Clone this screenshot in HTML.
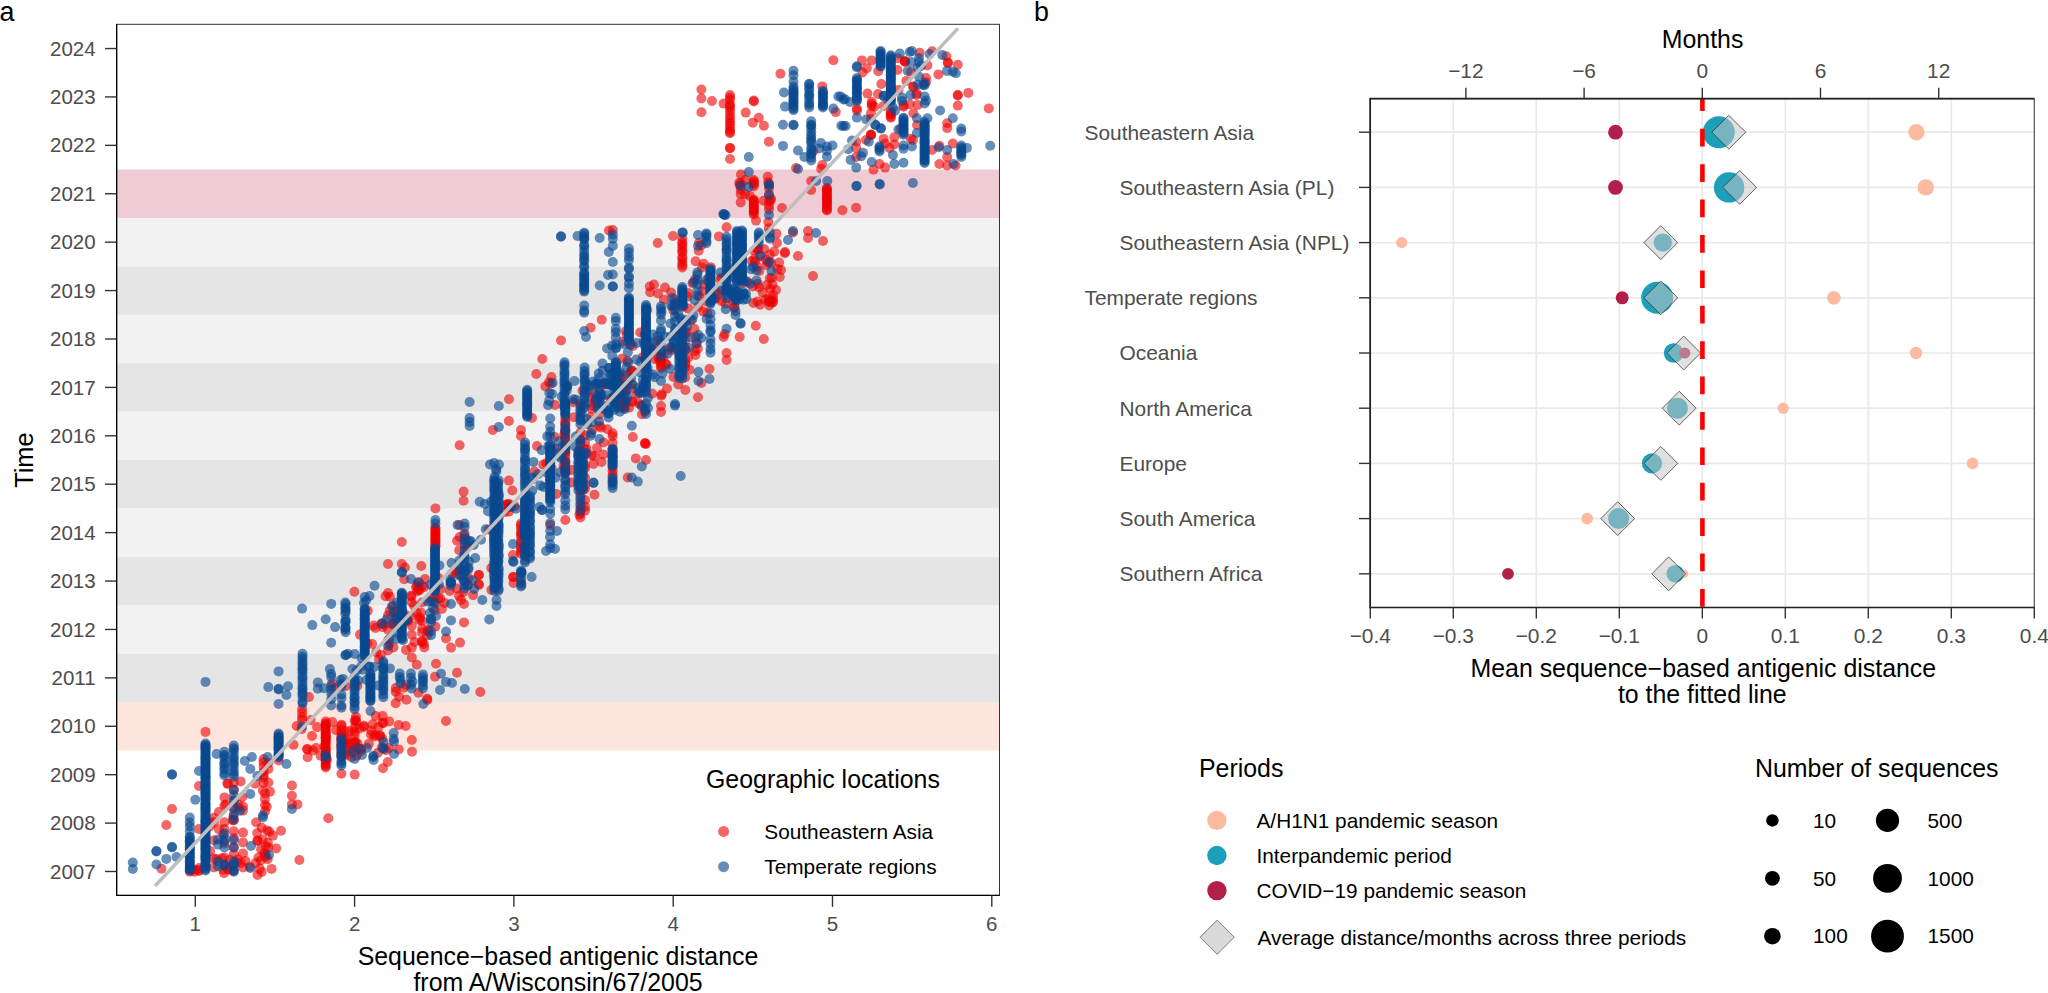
<!DOCTYPE html>
<html lang="en"><head><meta charset="utf-8"><title>Figure</title>
<style>html,body{margin:0;padding:0;background:#fff}body{width:2048px;height:993px;overflow:hidden}svg{display:block}text{font-family:"Liberation Sans", Arial, Helvetica, sans-serif}.t{font-size:20.5px;fill:#4d4d4d}.u{font-size:20.9px;fill:#4d4d4d}.T{font-size:24.9px;fill:#000}.l{font-size:20.8px;fill:#000}.k{stroke:#333;stroke-width:1.4}.g{stroke:#e9e9e9;stroke-width:1.7}</style></head><body>
<svg width="2048" height="993" viewBox="0 0 2048 993">
<rect width="2048" height="993" fill="#fff"/>
<g id="panel-a">
<rect x="116.5" y="702.07" width="883.0" height="48.41" fill="#fee5dd"/>
<rect x="116.5" y="653.65" width="883.0" height="48.41" fill="#e5e5e5"/>
<rect x="116.5" y="605.25" width="883.0" height="48.41" fill="#f2f2f2"/>
<rect x="116.5" y="556.84" width="883.0" height="48.41" fill="#e5e5e5"/>
<rect x="116.5" y="508.43" width="883.0" height="48.41" fill="#f2f2f2"/>
<rect x="116.5" y="460.02" width="883.0" height="48.41" fill="#e5e5e5"/>
<rect x="116.5" y="411.61" width="883.0" height="48.41" fill="#f2f2f2"/>
<rect x="116.5" y="363.20" width="883.0" height="48.41" fill="#e5e5e5"/>
<rect x="116.5" y="314.79" width="883.0" height="48.41" fill="#f2f2f2"/>
<rect x="116.5" y="266.38" width="883.0" height="48.41" fill="#e5e5e5"/>
<rect x="116.5" y="217.97" width="883.0" height="48.41" fill="#f2f2f2"/>
<rect x="116.5" y="169.56" width="883.0" height="48.41" fill="#efccd3"/>
<g fill="#ee0000" fill-opacity=".6">
<circle r="5" cx="325.7" cy="721.5"/><circle r="5" cx="325.7" cy="723.6"/><circle r="5" cx="325.7" cy="724.4"/><circle r="5" cx="325.7" cy="726.0"/><circle r="5" cx="325.7" cy="727.4"/><circle r="5" cx="325.7" cy="729.1"/><circle r="5" cx="325.7" cy="731.6"/><circle r="5" cx="325.7" cy="732.3"/><circle r="5" cx="325.7" cy="733.9"/><circle r="5" cx="325.7" cy="735.1"/><circle r="5" cx="325.7" cy="737.3"/><circle r="5" cx="325.7" cy="738.6"/><circle r="5" cx="325.7" cy="739.9"/><circle r="5" cx="325.7" cy="741.6"/><circle r="5" cx="325.7" cy="743.1"/><circle r="5" cx="325.7" cy="745.0"/><circle r="5" cx="325.7" cy="747.0"/><circle r="5" cx="325.7" cy="748.8"/><circle r="5" cx="325.7" cy="750.3"/><circle r="5" cx="325.7" cy="751.5"/><circle r="5" cx="325.7" cy="753.8"/><circle r="5" cx="325.7" cy="755.1"/><circle r="5" cx="325.7" cy="755.8"/><circle r="5" cx="325.7" cy="758.5"/><circle r="5" cx="325.7" cy="759.9"/><circle r="5" cx="325.7" cy="760.7"/><circle r="5" cx="325.7" cy="762.7"/><circle r="5" cx="325.7" cy="764.7"/><circle r="5" cx="325.7" cy="766.0"/><circle r="5" cx="325.7" cy="767.5"/><circle r="5" cx="278.6" cy="737.5"/><circle r="5" cx="278.6" cy="741.6"/><circle r="5" cx="278.6" cy="747.2"/><circle r="5" cx="278.6" cy="755.0"/><circle r="5" cx="278.6" cy="760.5"/><circle r="5" cx="199.2" cy="868.1"/><circle r="5" cx="199.2" cy="869.9"/><circle r="5" cx="199.2" cy="871.0"/><circle r="5" cx="189.8" cy="870.0"/><circle r="5" cx="189.8" cy="871.8"/><circle r="5" cx="194.5" cy="869.8"/><circle r="5" cx="194.5" cy="871.8"/><circle r="5" cx="263.6" cy="759.0"/><circle r="5" cx="263.6" cy="762.3"/><circle r="5" cx="263.6" cy="766.4"/><circle r="5" cx="263.6" cy="771.5"/><circle r="5" cx="263.6" cy="775.2"/><circle r="5" cx="263.6" cy="777.7"/><circle r="5" cx="263.6" cy="783.0"/><circle r="5" cx="268.4" cy="763.0"/><circle r="5" cx="268.4" cy="769.0"/><circle r="5" cx="268.4" cy="782.5"/><circle r="5" cx="265.0" cy="793.4"/><circle r="5" cx="265.0" cy="798.9"/><circle r="5" cx="265.0" cy="805.0"/><circle r="5" cx="265.0" cy="811.5"/><circle r="5" cx="291.9" cy="785.5"/><circle r="5" cx="291.9" cy="795.8"/><circle r="5" cx="291.9" cy="804.4"/><circle r="5" cx="297.4" cy="804.4"/><circle r="5" cx="172.0" cy="809.0"/><circle r="5" cx="166.3" cy="825.0"/><circle r="5" cx="161.5" cy="868.8"/><circle r="5" cx="328.3" cy="818.2"/><circle r="5" cx="281.0" cy="830.8"/><circle r="5" cx="299.4" cy="860.0"/><circle r="5" cx="276.2" cy="848.4"/><circle r="5" cx="307.6" cy="749.4"/><circle r="5" cx="307.6" cy="757.3"/><circle r="5" cx="293.5" cy="744.7"/><circle r="5" cx="341.4" cy="773.8"/><circle r="5" cx="354.7" cy="774.6"/><circle r="5" cx="383.0" cy="768.3"/><circle r="5" cx="387.7" cy="762.0"/><circle r="5" cx="398.7" cy="749.4"/><circle r="5" cx="412.0" cy="751.8"/><circle r="5" cx="351.6" cy="748.0"/><circle r="5" cx="356.0" cy="750.0"/><circle r="5" cx="361.0" cy="749.0"/><circle r="5" cx="361.0" cy="751.0"/><circle r="5" cx="316.0" cy="748.0"/><circle r="5" cx="199.0" cy="786.0"/><circle r="5" cx="199.0" cy="829.0"/><circle r="5" cx="271.6" cy="868.9"/><circle r="5" cx="211.1" cy="823.1"/><circle r="5" cx="261.7" cy="871.9"/><circle r="5" cx="238.3" cy="804.8"/><circle r="5" cx="223.2" cy="869.8"/><circle r="5" cx="223.3" cy="834.8"/><circle r="5" cx="218.9" cy="829.3"/><circle r="5" cx="270.0" cy="791.7"/><circle r="5" cx="261.7" cy="827.8"/><circle r="5" cx="265.9" cy="846.5"/><circle r="5" cx="224.6" cy="865.2"/><circle r="5" cx="240.6" cy="781.4"/><circle r="5" cx="210.2" cy="826.2"/><circle r="5" cx="238.4" cy="808.0"/><circle r="5" cx="218.9" cy="812.0"/><circle r="5" cx="229.9" cy="859.7"/><circle r="5" cx="210.1" cy="851.1"/><circle r="5" cx="262.9" cy="790.5"/><circle r="5" cx="268.4" cy="847.5"/><circle r="5" cx="266.8" cy="806.8"/><circle r="5" cx="233.4" cy="816.7"/><circle r="5" cx="272.9" cy="835.6"/><circle r="5" cx="232.7" cy="820.1"/><circle r="5" cx="227.3" cy="783.6"/><circle r="5" cx="216.4" cy="859.1"/><circle r="5" cx="228.0" cy="868.8"/><circle r="5" cx="225.7" cy="804.5"/><circle r="5" cx="242.2" cy="797.2"/><circle r="5" cx="233.5" cy="870.8"/><circle r="5" cx="265.7" cy="856.9"/><circle r="5" cx="249.7" cy="866.7"/><circle r="5" cx="269.3" cy="831.7"/><circle r="5" cx="255.3" cy="783.7"/><circle r="5" cx="256.1" cy="822.3"/><circle r="5" cx="257.4" cy="840.9"/><circle r="5" cx="228.0" cy="783.7"/><circle r="5" cx="258.5" cy="857.5"/><circle r="5" cx="236.7" cy="861.9"/><circle r="5" cx="228.3" cy="869.8"/><circle r="5" cx="260.9" cy="860.2"/><circle r="5" cx="245.5" cy="861.0"/><circle r="5" cx="240.8" cy="862.9"/><circle r="5" cx="222.0" cy="858.2"/><circle r="5" cx="224.0" cy="873.1"/><circle r="5" cx="237.9" cy="859.4"/><circle r="5" cx="257.5" cy="874.9"/><circle r="5" cx="233.8" cy="782.5"/><circle r="5" cx="233.8" cy="789.6"/><circle r="5" cx="233.8" cy="800.1"/><circle r="5" cx="233.8" cy="808.7"/><circle r="5" cx="233.8" cy="820.5"/><circle r="5" cx="233.8" cy="831.2"/><circle r="5" cx="233.8" cy="838.1"/><circle r="5" cx="233.8" cy="847.2"/><circle r="5" cx="233.8" cy="854.2"/><circle r="5" cx="224.4" cy="797.4"/><circle r="5" cx="224.4" cy="805.5"/><circle r="5" cx="224.4" cy="822.3"/><circle r="5" cx="224.4" cy="829.1"/><circle r="5" cx="224.4" cy="843.5"/><circle r="5" cx="224.4" cy="857.5"/><circle r="5" cx="243.0" cy="806.4"/><circle r="5" cx="243.0" cy="810.6"/><circle r="5" cx="243.0" cy="832.6"/><circle r="5" cx="243.0" cy="842.4"/><circle r="5" cx="243.0" cy="853.4"/><circle r="5" cx="243.0" cy="867.5"/><circle r="5" cx="214.0" cy="817.7"/><circle r="5" cx="214.0" cy="821.9"/><circle r="5" cx="214.0" cy="840.2"/><circle r="5" cx="214.0" cy="858.6"/><circle r="5" cx="214.0" cy="867.5"/><circle r="5" cx="264.1" cy="853.2"/><circle r="5" cx="255.8" cy="862.9"/><circle r="5" cx="259.7" cy="868.6"/><circle r="5" cx="267.9" cy="842.8"/><circle r="5" cx="257.6" cy="840.6"/><circle r="5" cx="267.7" cy="859.3"/><circle r="5" cx="257.2" cy="833.0"/><circle r="5" cx="265.5" cy="854.5"/><circle r="5" cx="262.8" cy="839.4"/><circle r="5" cx="267.0" cy="830.4"/><circle r="5" cx="261.0" cy="849.3"/><circle r="5" cx="205.5" cy="731.9"/><circle r="5" cx="302.1" cy="709.0"/><circle r="5" cx="302.1" cy="713.0"/><circle r="5" cx="302.1" cy="717.0"/><circle r="5" cx="302.1" cy="720.0"/><circle r="5" cx="309.0" cy="697.0"/><circle r="5" cx="341.4" cy="724.7"/><circle r="5" cx="341.4" cy="725.9"/><circle r="5" cx="341.4" cy="730.2"/><circle r="5" cx="341.4" cy="733.3"/><circle r="5" cx="341.4" cy="735.9"/><circle r="5" cx="341.4" cy="738.0"/><circle r="5" cx="341.4" cy="740.2"/><circle r="5" cx="341.4" cy="743.6"/><circle r="5" cx="341.4" cy="745.3"/><circle r="5" cx="341.4" cy="748.4"/><circle r="5" cx="341.4" cy="752.3"/><circle r="5" cx="341.4" cy="754.0"/><circle r="5" cx="341.4" cy="756.6"/><circle r="5" cx="354.7" cy="721.1"/><circle r="5" cx="354.7" cy="727.5"/><circle r="5" cx="354.7" cy="731.6"/><circle r="5" cx="354.7" cy="735.0"/><circle r="5" cx="354.7" cy="742.7"/><circle r="5" cx="354.7" cy="747.5"/><circle r="5" cx="344.5" cy="743.1"/><circle r="5" cx="313.0" cy="750.6"/><circle r="5" cx="317.1" cy="727.1"/><circle r="5" cx="332.2" cy="721.9"/><circle r="5" cx="336.0" cy="730.1"/><circle r="5" cx="327.0" cy="759.4"/><circle r="5" cx="324.3" cy="746.5"/><circle r="5" cx="310.6" cy="720.1"/><circle r="5" cx="296.7" cy="726.0"/><circle r="5" cx="325.8" cy="737.3"/><circle r="5" cx="320.6" cy="755.8"/><circle r="5" cx="301.6" cy="729.1"/><circle r="5" cx="375.7" cy="716.0"/><circle r="5" cx="345.1" cy="731.0"/><circle r="5" cx="350.0" cy="731.1"/><circle r="5" cx="355.5" cy="741.3"/><circle r="5" cx="372.7" cy="724.2"/><circle r="5" cx="374.3" cy="736.4"/><circle r="5" cx="351.3" cy="757.1"/><circle r="5" cx="356.4" cy="721.7"/><circle r="5" cx="349.5" cy="743.7"/><circle r="5" cx="386.0" cy="750.2"/><circle r="5" cx="363.9" cy="726.9"/><circle r="5" cx="345.5" cy="744.0"/><circle r="5" cx="371.4" cy="730.8"/><circle r="5" cx="375.3" cy="735.0"/><circle r="5" cx="389.0" cy="748.0"/><circle r="5" cx="356.7" cy="755.7"/><circle r="5" cx="347.1" cy="738.9"/><circle r="5" cx="364.1" cy="725.7"/><circle r="5" cx="347.7" cy="750.0"/><circle r="5" cx="345.6" cy="739.8"/><circle r="5" cx="389.2" cy="721.4"/><circle r="5" cx="354.4" cy="742.4"/><circle r="5" cx="368.8" cy="743.9"/><circle r="5" cx="383.2" cy="722.9"/><circle r="5" cx="359.5" cy="728.5"/><circle r="5" cx="347.3" cy="755.0"/><circle r="5" cx="381.8" cy="747.2"/><circle r="5" cx="345.3" cy="753.0"/><circle r="5" cx="380.0" cy="735.9"/><circle r="5" cx="379.9" cy="735.4"/><circle r="5" cx="355.6" cy="719.7"/><circle r="5" cx="355.9" cy="716.7"/><circle r="5" cx="360.8" cy="748.7"/><circle r="5" cx="377.7" cy="753.0"/><circle r="5" cx="378.4" cy="727.0"/><circle r="5" cx="371.0" cy="734.6"/><circle r="5" cx="382.1" cy="738.5"/><circle r="5" cx="357.5" cy="743.9"/><circle r="5" cx="446.0" cy="721.0"/><circle r="5" cx="398.7" cy="725.0"/><circle r="5" cx="405.7" cy="726.0"/><circle r="5" cx="411.8" cy="740.0"/><circle r="5" cx="382.6" cy="716.0"/><circle r="5" cx="382.6" cy="723.0"/><circle r="5" cx="312.0" cy="736.0"/><circle r="5" cx="307.0" cy="749.0"/><circle r="5" cx="354.4" cy="591.8"/><circle r="5" cx="464.0" cy="622.4"/><circle r="5" cx="460.0" cy="642.6"/><circle r="5" cx="451.0" cy="647.6"/><circle r="5" cx="446.0" cy="638.5"/><circle r="5" cx="436.0" cy="663.7"/><circle r="5" cx="416.8" cy="664.7"/><circle r="5" cx="457.0" cy="672.8"/><circle r="5" cx="480.3" cy="692.0"/><circle r="5" cx="435.0" cy="676.8"/><circle r="5" cx="479.0" cy="575.0"/><circle r="5" cx="479.0" cy="585.0"/><circle r="5" cx="491.3" cy="568.0"/><circle r="5" cx="491.3" cy="590.0"/><circle r="5" cx="513.5" cy="577.0"/><circle r="5" cx="513.5" cy="583.0"/><circle r="5" cx="459.0" cy="596.0"/><circle r="5" cx="464.0" cy="604.0"/><circle r="5" cx="461.0" cy="600.0"/><circle r="5" cx="419.9" cy="589.6"/><circle r="5" cx="416.8" cy="585.9"/><circle r="5" cx="418.5" cy="590.0"/><circle r="5" cx="417.6" cy="591.3"/><circle r="5" cx="417.8" cy="582.6"/><circle r="5" cx="422.0" cy="586.0"/><circle r="5" cx="416.1" cy="587.6"/><circle r="5" cx="389.2" cy="644.1"/><circle r="5" cx="423.9" cy="644.0"/><circle r="5" cx="420.0" cy="617.7"/><circle r="5" cx="407.2" cy="620.1"/><circle r="5" cx="434.8" cy="601.3"/><circle r="5" cx="434.7" cy="597.5"/><circle r="5" cx="396.2" cy="612.1"/><circle r="5" cx="435.4" cy="626.6"/><circle r="5" cx="406.0" cy="649.9"/><circle r="5" cx="397.8" cy="624.1"/><circle r="5" cx="414.6" cy="642.0"/><circle r="5" cx="427.1" cy="635.4"/><circle r="5" cx="404.3" cy="615.9"/><circle r="5" cx="393.4" cy="647.4"/><circle r="5" cx="421.9" cy="641.3"/><circle r="5" cx="394.2" cy="622.8"/><circle r="5" cx="428.2" cy="631.3"/><circle r="5" cx="391.7" cy="624.2"/><circle r="5" cx="434.5" cy="610.5"/><circle r="5" cx="395.4" cy="614.4"/><circle r="5" cx="424.3" cy="647.5"/><circle r="5" cx="393.3" cy="605.5"/><circle r="5" cx="398.6" cy="615.9"/><circle r="5" cx="414.1" cy="605.8"/><circle r="5" cx="403.8" cy="687.8"/><circle r="5" cx="427.1" cy="698.6"/><circle r="5" cx="395.7" cy="703.2"/><circle r="5" cx="395.7" cy="691.7"/><circle r="5" cx="427.4" cy="699.9"/><circle r="5" cx="418.4" cy="692.7"/><circle r="5" cx="399.1" cy="696.8"/><circle r="5" cx="395.8" cy="688.1"/><circle r="5" cx="406.0" cy="684.7"/><circle r="5" cx="406.4" cy="699.8"/><circle r="5" cx="375.4" cy="628.0"/><circle r="5" cx="373.7" cy="625.6"/><circle r="5" cx="360.0" cy="634.6"/><circle r="5" cx="367.3" cy="643.4"/><circle r="5" cx="381.4" cy="623.5"/><circle r="5" cx="372.1" cy="643.9"/><circle r="5" cx="367.8" cy="610.6"/><circle r="5" cx="376.2" cy="652.3"/><circle r="5" cx="388.0" cy="615.4"/><circle r="5" cx="388.0" cy="629.6"/><circle r="5" cx="388.0" cy="640.7"/><circle r="5" cx="388.0" cy="650.5"/><circle r="5" cx="411.8" cy="602.5"/><circle r="5" cx="411.8" cy="616.0"/><circle r="5" cx="411.8" cy="625.6"/><circle r="5" cx="411.8" cy="634.8"/><circle r="5" cx="411.8" cy="647.6"/><circle r="5" cx="411.8" cy="657.5"/><circle r="5" cx="422.0" cy="602.5"/><circle r="5" cx="422.0" cy="620.8"/><circle r="5" cx="422.0" cy="632.4"/><circle r="5" cx="422.0" cy="642.0"/><circle r="5" cx="435.4" cy="527.5"/><circle r="5" cx="435.4" cy="528.8"/><circle r="5" cx="435.4" cy="530.6"/><circle r="5" cx="435.4" cy="532.3"/><circle r="5" cx="435.4" cy="533.6"/><circle r="5" cx="435.4" cy="535.1"/><circle r="5" cx="435.4" cy="536.6"/><circle r="5" cx="435.4" cy="538.2"/><circle r="5" cx="435.4" cy="539.6"/><circle r="5" cx="435.4" cy="541.0"/><circle r="5" cx="435.4" cy="542.1"/><circle r="5" cx="435.4" cy="543.7"/><circle r="5" cx="435.4" cy="545.4"/><circle r="5" cx="435.4" cy="546.5"/><circle r="5" cx="565.3" cy="418.5"/><circle r="5" cx="565.3" cy="421.8"/><circle r="5" cx="565.3" cy="423.8"/><circle r="5" cx="565.3" cy="426.6"/><circle r="5" cx="565.3" cy="430.2"/><circle r="5" cx="565.3" cy="432.4"/><circle r="5" cx="565.3" cy="434.4"/><circle r="5" cx="565.3" cy="437.1"/><circle r="5" cx="565.3" cy="440.9"/><circle r="5" cx="565.3" cy="444.4"/><circle r="5" cx="565.3" cy="447.0"/><circle r="5" cx="565.3" cy="450.0"/><circle r="5" cx="565.3" cy="451.6"/><circle r="5" cx="565.3" cy="453.5"/><circle r="5" cx="565.3" cy="457.5"/><circle r="5" cx="565.3" cy="461.1"/><circle r="5" cx="565.3" cy="463.0"/><circle r="5" cx="565.3" cy="465.7"/><circle r="5" cx="565.3" cy="468.9"/><circle r="5" cx="565.3" cy="470.9"/><circle r="5" cx="565.3" cy="473.7"/><circle r="5" cx="612.6" cy="433.3"/><circle r="5" cx="612.6" cy="436.2"/><circle r="5" cx="612.6" cy="443.1"/><circle r="5" cx="612.6" cy="449.4"/><circle r="5" cx="612.6" cy="456.6"/><circle r="5" cx="612.6" cy="459.8"/><circle r="5" cx="612.6" cy="467.8"/><circle r="5" cx="612.6" cy="471.2"/><circle r="5" cx="612.6" cy="475.1"/><circle r="5" cx="612.6" cy="482.1"/><circle r="5" cx="580.4" cy="432.6"/><circle r="5" cx="580.4" cy="439.6"/><circle r="5" cx="580.4" cy="444.6"/><circle r="5" cx="580.4" cy="450.3"/><circle r="5" cx="580.4" cy="452.5"/><circle r="5" cx="580.4" cy="459.4"/><circle r="5" cx="580.4" cy="463.4"/><circle r="5" cx="580.4" cy="470.7"/><circle r="5" cx="580.4" cy="474.9"/><circle r="5" cx="580.4" cy="481.5"/><circle r="5" cx="580.4" cy="485.9"/><circle r="5" cx="580.4" cy="490.8"/><circle r="5" cx="580.4" cy="494.9"/><circle r="5" cx="580.4" cy="503.8"/><circle r="5" cx="580.4" cy="508.5"/><circle r="5" cx="580.4" cy="513.1"/><circle r="5" cx="580.4" cy="517.5"/><circle r="5" cx="585.0" cy="442.7"/><circle r="5" cx="585.0" cy="449.9"/><circle r="5" cx="585.0" cy="454.4"/><circle r="5" cx="585.0" cy="465.0"/><circle r="5" cx="585.0" cy="468.3"/><circle r="5" cx="585.0" cy="477.6"/><circle r="5" cx="585.0" cy="485.1"/><circle r="5" cx="585.0" cy="489.0"/><circle r="5" cx="585.0" cy="500.0"/><circle r="5" cx="585.0" cy="506.7"/><circle r="5" cx="585.0" cy="510.6"/><circle r="5" cx="459.6" cy="445.3"/><circle r="5" cx="508.9" cy="421.0"/><circle r="5" cx="492.8" cy="430.0"/><circle r="5" cx="521.0" cy="430.0"/><circle r="5" cx="521.0" cy="436.0"/><circle r="5" cx="532.0" cy="418.0"/><circle r="5" cx="537.0" cy="446.0"/><circle r="5" cx="508.9" cy="480.6"/><circle r="5" cx="463.6" cy="491.6"/><circle r="5" cx="463.6" cy="500.7"/><circle r="5" cx="435.4" cy="508.4"/><circle r="5" cx="401.8" cy="542.0"/><circle r="5" cx="388.0" cy="564.0"/><circle r="5" cx="401.8" cy="564.0"/><circle r="5" cx="421.3" cy="566.0"/><circle r="5" cx="388.0" cy="593.0"/><circle r="5" cx="594.5" cy="456.0"/><circle r="5" cx="594.5" cy="494.7"/><circle r="5" cx="601.5" cy="462.0"/><circle r="5" cx="632.8" cy="437.0"/><circle r="5" cx="645.0" cy="443.0"/><circle r="5" cx="645.0" cy="443.6"/><circle r="5" cx="646.0" cy="444.0"/><circle r="5" cx="635.8" cy="458.4"/><circle r="5" cx="646.0" cy="460.0"/><circle r="5" cx="627.7" cy="477.5"/><circle r="5" cx="661.0" cy="406.0"/><circle r="5" cx="661.0" cy="412.0"/><circle r="5" cx="599.5" cy="426.0"/><circle r="5" cx="565.3" cy="520.0"/><circle r="5" cx="579.4" cy="514.8"/><circle r="5" cx="550.2" cy="525.0"/><circle r="5" cx="513.0" cy="555.0"/><circle r="5" cx="513.0" cy="577.0"/><circle r="5" cx="521.0" cy="583.0"/><circle r="5" cx="478.7" cy="575.0"/><circle r="5" cx="478.7" cy="584.0"/><circle r="5" cx="389.9" cy="596.7"/><circle r="5" cx="438.2" cy="577.9"/><circle r="5" cx="425.0" cy="579.1"/><circle r="5" cx="385.5" cy="596.3"/><circle r="5" cx="438.3" cy="598.6"/><circle r="5" cx="424.0" cy="587.1"/><circle r="5" cx="404.9" cy="567.5"/><circle r="5" cx="473.1" cy="595.1"/><circle r="5" cx="411.5" cy="596.6"/><circle r="5" cx="461.6" cy="576.3"/><circle r="5" cx="440.3" cy="598.6"/><circle r="5" cx="429.6" cy="598.3"/><circle r="5" cx="404.3" cy="579.3"/><circle r="5" cx="451.8" cy="573.5"/><circle r="5" cx="410.9" cy="595.8"/><circle r="5" cx="508.8" cy="511.7"/><circle r="5" cx="505.9" cy="504.9"/><circle r="5" cx="507.3" cy="505.1"/><circle r="5" cx="514.7" cy="506.2"/><circle r="5" cx="509.7" cy="504.3"/><circle r="5" cx="509.4" cy="507.2"/><circle r="5" cx="507.8" cy="503.7"/><circle r="5" cx="504.5" cy="512.1"/><circle r="5" cx="521.0" cy="523.5"/><circle r="5" cx="521.0" cy="525.6"/><circle r="5" cx="521.0" cy="528.5"/><circle r="5" cx="521.0" cy="532.3"/><circle r="5" cx="521.0" cy="534.0"/><circle r="5" cx="521.0" cy="536.7"/><circle r="5" cx="521.0" cy="541.2"/><circle r="5" cx="521.0" cy="543.1"/><circle r="5" cx="521.0" cy="546.7"/><circle r="5" cx="521.0" cy="548.5"/><circle r="5" cx="521.0" cy="551.4"/><circle r="5" cx="521.0" cy="553.8"/><circle r="5" cx="495.8" cy="482.5"/><circle r="5" cx="495.8" cy="489.2"/><circle r="5" cx="495.8" cy="497.7"/><circle r="5" cx="495.8" cy="505.7"/><circle r="5" cx="495.8" cy="509.8"/><circle r="5" cx="495.8" cy="518.1"/><circle r="5" cx="495.8" cy="526.6"/><circle r="5" cx="495.8" cy="531.6"/><circle r="5" cx="495.8" cy="537.2"/><circle r="5" cx="495.8" cy="544.9"/><circle r="5" cx="495.8" cy="552.9"/><circle r="5" cx="495.8" cy="558.9"/><circle r="5" cx="495.8" cy="564.7"/><circle r="5" cx="495.8" cy="572.5"/><circle r="5" cx="495.8" cy="578.3"/><circle r="5" cx="495.8" cy="586.7"/><circle r="5" cx="459.5" cy="524.9"/><circle r="5" cx="459.7" cy="537.0"/><circle r="5" cx="456.9" cy="573.8"/><circle r="5" cx="459.2" cy="550.3"/><circle r="5" cx="468.6" cy="578.1"/><circle r="5" cx="468.2" cy="584.6"/><circle r="5" cx="457.0" cy="540.7"/><circle r="5" cx="455.4" cy="571.0"/><circle r="5" cx="465.0" cy="546.4"/><circle r="5" cx="461.2" cy="569.4"/><circle r="5" cx="465.5" cy="538.6"/><circle r="5" cx="467.7" cy="546.4"/><circle r="5" cx="464.4" cy="533.6"/><circle r="5" cx="456.7" cy="588.5"/><circle r="5" cx="642.0" cy="414.3"/><circle r="5" cx="621.2" cy="400.8"/><circle r="5" cx="624.9" cy="404.0"/><circle r="5" cx="629.1" cy="407.6"/><circle r="5" cx="621.2" cy="406.2"/><circle r="5" cx="639.1" cy="403.6"/><circle r="5" cx="645.2" cy="411.4"/><circle r="5" cx="641.5" cy="405.1"/><circle r="5" cx="597.0" cy="447.9"/><circle r="5" cx="595.6" cy="400.1"/><circle r="5" cx="603.3" cy="454.4"/><circle r="5" cx="594.6" cy="403.0"/><circle r="5" cx="603.7" cy="442.5"/><circle r="5" cx="590.8" cy="417.1"/><circle r="5" cx="591.8" cy="455.4"/><circle r="5" cx="593.4" cy="464.0"/><circle r="5" cx="602.0" cy="406.0"/><circle r="5" cx="601.1" cy="427.6"/><circle r="5" cx="682.3" cy="238.5"/><circle r="5" cx="682.3" cy="242.3"/><circle r="5" cx="682.3" cy="244.5"/><circle r="5" cx="682.3" cy="247.4"/><circle r="5" cx="682.3" cy="250.6"/><circle r="5" cx="682.3" cy="252.4"/><circle r="5" cx="682.3" cy="257.0"/><circle r="5" cx="682.3" cy="259.1"/><circle r="5" cx="682.3" cy="262.4"/><circle r="5" cx="682.3" cy="265.3"/><circle r="5" cx="682.3" cy="267.5"/><circle r="5" cx="612.8" cy="230.0"/><circle r="5" cx="609.0" cy="230.5"/><circle r="5" cx="657.7" cy="243.0"/><circle r="5" cx="673.0" cy="236.0"/><circle r="5" cx="654.0" cy="284.5"/><circle r="5" cx="665.0" cy="287.5"/><circle r="5" cx="671.0" cy="292.6"/><circle r="5" cx="808.0" cy="231.0"/><circle r="5" cx="808.0" cy="238.0"/><circle r="5" cx="823.0" cy="241.0"/><circle r="5" cx="798.0" cy="256.0"/><circle r="5" cx="813.0" cy="276.0"/><circle r="5" cx="785.0" cy="252.0"/><circle r="5" cx="755.8" cy="325.8"/><circle r="5" cx="763.8" cy="339.0"/><circle r="5" cx="739.7" cy="337.0"/><circle r="5" cx="723.6" cy="337.0"/><circle r="5" cx="726.6" cy="353.0"/><circle r="5" cx="726.6" cy="360.0"/><circle r="5" cx="695.4" cy="337.0"/><circle r="5" cx="695.0" cy="351.0"/><circle r="5" cx="695.5" cy="355.0"/><circle r="5" cx="601.7" cy="319.8"/><circle r="5" cx="590.6" cy="327.8"/><circle r="5" cx="561.0" cy="340.5"/><circle r="5" cx="542.3" cy="359.0"/><circle r="5" cx="509.0" cy="399.3"/><circle r="5" cx="536.3" cy="374.0"/><circle r="5" cx="551.4" cy="377.0"/><circle r="5" cx="685.3" cy="390.0"/><circle r="5" cx="701.4" cy="383.0"/><circle r="5" cx="709.5" cy="369.0"/><circle r="5" cx="769.7" cy="254.7"/><circle r="5" cx="758.5" cy="247.8"/><circle r="5" cx="755.1" cy="261.4"/><circle r="5" cx="764.3" cy="249.2"/><circle r="5" cx="757.2" cy="248.9"/><circle r="5" cx="754.2" cy="250.6"/><circle r="5" cx="757.0" cy="266.5"/><circle r="5" cx="770.9" cy="262.6"/><circle r="5" cx="760.1" cy="256.4"/><circle r="5" cx="766.4" cy="265.1"/><circle r="5" cx="765.8" cy="259.4"/><circle r="5" cx="754.2" cy="259.1"/><circle r="5" cx="767.8" cy="262.5"/><circle r="5" cx="751.9" cy="261.1"/><circle r="5" cx="757.3" cy="249.4"/><circle r="5" cx="773.1" cy="298.7"/><circle r="5" cx="767.0" cy="284.9"/><circle r="5" cx="769.3" cy="305.4"/><circle r="5" cx="771.4" cy="300.5"/><circle r="5" cx="769.4" cy="302.0"/><circle r="5" cx="762.7" cy="292.6"/><circle r="5" cx="769.2" cy="301.5"/><circle r="5" cx="770.4" cy="289.1"/><circle r="5" cx="772.9" cy="295.1"/><circle r="5" cx="772.5" cy="284.5"/><circle r="5" cx="773.1" cy="301.6"/><circle r="5" cx="753.4" cy="302.9"/><circle r="5" cx="752.9" cy="286.5"/><circle r="5" cx="759.1" cy="287.5"/><circle r="5" cx="760.0" cy="304.7"/><circle r="5" cx="765.3" cy="299.6"/><circle r="5" cx="757.3" cy="301.5"/><circle r="5" cx="768.3" cy="298.9"/><circle r="5" cx="772.4" cy="302.6"/><circle r="5" cx="757.7" cy="283.7"/><circle r="5" cx="726.6" cy="227.2"/><circle r="5" cx="768.7" cy="228.3"/><circle r="5" cx="776.5" cy="233.8"/><circle r="5" cx="784.8" cy="253.2"/><circle r="5" cx="774.2" cy="251.6"/><circle r="5" cx="779.2" cy="262.6"/><circle r="5" cx="779.8" cy="277.0"/><circle r="5" cx="769.8" cy="278.2"/><circle r="5" cx="725.5" cy="303.6"/><circle r="5" cx="720.0" cy="291.5"/><circle r="5" cx="734.3" cy="307.0"/><circle r="5" cx="734.3" cy="307.4"/><circle r="5" cx="702.0" cy="291.5"/><circle r="5" cx="777.0" cy="243.0"/><circle r="5" cx="781.0" cy="270.0"/><circle r="5" cx="776.0" cy="290.0"/><circle r="5" cx="734.8" cy="298.2"/><circle r="5" cx="718.6" cy="293.9"/><circle r="5" cx="716.2" cy="298.8"/><circle r="5" cx="720.5" cy="279.5"/><circle r="5" cx="743.7" cy="282.7"/><circle r="5" cx="721.7" cy="301.1"/><circle r="5" cx="733.3" cy="301.3"/><circle r="5" cx="726.8" cy="287.5"/><circle r="5" cx="632.3" cy="371.0"/><circle r="5" cx="632.8" cy="346.0"/><circle r="5" cx="630.5" cy="343.8"/><circle r="5" cx="625.9" cy="331.0"/><circle r="5" cx="620.6" cy="405.7"/><circle r="5" cx="624.8" cy="394.9"/><circle r="5" cx="621.8" cy="358.8"/><circle r="5" cx="619.5" cy="374.7"/><circle r="5" cx="630.9" cy="371.6"/><circle r="5" cx="623.7" cy="404.4"/><circle r="5" cx="631.4" cy="383.6"/><circle r="5" cx="619.1" cy="380.3"/><circle r="5" cx="624.7" cy="406.7"/><circle r="5" cx="623.4" cy="383.2"/><circle r="5" cx="627.5" cy="360.7"/><circle r="5" cx="625.8" cy="384.4"/><circle r="5" cx="631.6" cy="370.4"/><circle r="5" cx="623.5" cy="408.1"/><circle r="5" cx="618.9" cy="397.0"/><circle r="5" cx="628.3" cy="375.0"/><circle r="5" cx="624.7" cy="390.3"/><circle r="5" cx="631.4" cy="388.6"/><circle r="5" cx="629.2" cy="333.8"/><circle r="5" cx="622.9" cy="341.8"/><circle r="5" cx="632.3" cy="401.4"/><circle r="5" cx="620.2" cy="377.4"/><circle r="5" cx="626.7" cy="334.7"/><circle r="5" cx="623.9" cy="390.0"/><circle r="5" cx="661.0" cy="353.8"/><circle r="5" cx="661.0" cy="357.1"/><circle r="5" cx="661.0" cy="359.6"/><circle r="5" cx="661.0" cy="363.6"/><circle r="5" cx="661.0" cy="366.2"/><circle r="5" cx="661.0" cy="368.2"/><circle r="5" cx="685.0" cy="330.4"/><circle r="5" cx="685.0" cy="334.1"/><circle r="5" cx="685.0" cy="341.0"/><circle r="5" cx="685.0" cy="347.5"/><circle r="5" cx="685.0" cy="350.2"/><circle r="5" cx="685.0" cy="359.0"/><circle r="5" cx="685.0" cy="364.0"/><circle r="5" cx="685.0" cy="367.7"/><circle r="5" cx="657.9" cy="356.8"/><circle r="5" cx="698.0" cy="397.3"/><circle r="5" cx="651.2" cy="351.7"/><circle r="5" cx="696.6" cy="343.8"/><circle r="5" cx="659.3" cy="360.7"/><circle r="5" cx="646.5" cy="348.2"/><circle r="5" cx="663.6" cy="357.0"/><circle r="5" cx="697.8" cy="348.7"/><circle r="5" cx="652.2" cy="393.6"/><circle r="5" cx="667.0" cy="388.6"/><circle r="5" cx="678.2" cy="384.5"/><circle r="5" cx="658.9" cy="340.6"/><circle r="5" cx="685.4" cy="362.9"/><circle r="5" cx="673.5" cy="376.9"/><circle r="5" cx="685.2" cy="349.3"/><circle r="5" cx="661.8" cy="394.2"/><circle r="5" cx="671.8" cy="350.2"/><circle r="5" cx="677.8" cy="348.2"/><circle r="5" cx="686.3" cy="332.9"/><circle r="5" cx="689.6" cy="369.7"/><circle r="5" cx="661.2" cy="395.8"/><circle r="5" cx="655.9" cy="347.0"/><circle r="5" cx="644.2" cy="368.4"/><circle r="5" cx="685.2" cy="377.5"/><circle r="5" cx="573.0" cy="402.3"/><circle r="5" cx="548.9" cy="382.3"/><circle r="5" cx="591.6" cy="408.7"/><circle r="5" cx="590.7" cy="397.7"/><circle r="5" cx="602.0" cy="385.8"/><circle r="5" cx="615.2" cy="399.7"/><circle r="5" cx="567.3" cy="385.7"/><circle r="5" cx="604.5" cy="384.0"/><circle r="5" cx="554.9" cy="404.9"/><circle r="5" cx="582.5" cy="390.8"/><circle r="5" cx="593.6" cy="406.1"/><circle r="5" cx="550.7" cy="383.5"/><circle r="5" cx="545.3" cy="386.5"/><circle r="5" cx="580.2" cy="404.1"/><circle r="5" cx="593.4" cy="393.1"/><circle r="5" cx="730.0" cy="95.0"/><circle r="5" cx="730.0" cy="97.5"/><circle r="5" cx="730.0" cy="99.7"/><circle r="5" cx="730.0" cy="104.5"/><circle r="5" cx="730.0" cy="105.7"/><circle r="5" cx="730.0" cy="108.3"/><circle r="5" cx="730.0" cy="111.4"/><circle r="5" cx="730.0" cy="115.1"/><circle r="5" cx="730.0" cy="118.0"/><circle r="5" cx="730.0" cy="121.2"/><circle r="5" cx="730.0" cy="123.8"/><circle r="5" cx="730.0" cy="126.6"/><circle r="5" cx="730.0" cy="129.5"/><circle r="5" cx="730.0" cy="131.9"/><circle r="5" cx="730.0" cy="133.2"/><circle r="5" cx="730.0" cy="147.9"/><circle r="5" cx="730.0" cy="148.3"/><circle r="5" cx="730.0" cy="159.0"/><circle r="5" cx="701.4" cy="89.5"/><circle r="5" cx="701.4" cy="98.5"/><circle r="5" cx="701.4" cy="112.2"/><circle r="5" cx="712.0" cy="101.0"/><circle r="5" cx="723.6" cy="103.6"/><circle r="5" cx="753.8" cy="100.5"/><circle r="5" cx="753.8" cy="101.5"/><circle r="5" cx="745.7" cy="112.6"/><circle r="5" cx="758.8" cy="117.7"/><circle r="5" cx="752.8" cy="122.7"/><circle r="5" cx="763.9" cy="125.7"/><circle r="5" cx="768.9" cy="141.8"/><circle r="5" cx="780.4" cy="73.7"/><circle r="5" cx="833.4" cy="60.3"/><circle r="5" cx="822.3" cy="86.4"/><circle r="5" cx="753.8" cy="180.1"/><circle r="5" cx="753.8" cy="181.5"/><circle r="5" cx="753.8" cy="183.2"/><circle r="5" cx="753.8" cy="184.3"/><circle r="5" cx="753.8" cy="186.5"/><circle r="5" cx="753.8" cy="199.7"/><circle r="5" cx="753.8" cy="200.7"/><circle r="5" cx="753.8" cy="201.9"/><circle r="5" cx="753.8" cy="203.6"/><circle r="5" cx="753.8" cy="205.3"/><circle r="5" cx="753.8" cy="206.6"/><circle r="5" cx="753.8" cy="208.2"/><circle r="5" cx="753.8" cy="210.0"/><circle r="5" cx="753.8" cy="211.2"/><circle r="5" cx="753.8" cy="212.7"/><circle r="5" cx="753.8" cy="214.5"/><circle r="5" cx="769.0" cy="183.5"/><circle r="5" cx="769.0" cy="188.4"/><circle r="5" cx="769.0" cy="194.9"/><circle r="5" cx="769.0" cy="201.3"/><circle r="5" cx="769.0" cy="205.8"/><circle r="5" cx="769.0" cy="209.4"/><circle r="5" cx="740.7" cy="183.5"/><circle r="5" cx="740.7" cy="189.6"/><circle r="5" cx="740.7" cy="194.1"/><circle r="5" cx="740.7" cy="202.4"/><circle r="5" cx="745.1" cy="194.3"/><circle r="5" cx="741.0" cy="174.6"/><circle r="5" cx="749.8" cy="195.9"/><circle r="5" cx="770.7" cy="200.4"/><circle r="5" cx="739.3" cy="182.8"/><circle r="5" cx="763.7" cy="200.8"/><circle r="5" cx="768.3" cy="222.0"/><circle r="5" cx="767.8" cy="176.8"/><circle r="5" cx="771.0" cy="198.8"/><circle r="5" cx="745.4" cy="180.0"/><circle r="5" cx="768.1" cy="182.3"/><circle r="5" cx="739.7" cy="185.1"/><circle r="5" cx="782.0" cy="208.0"/><circle r="5" cx="796.0" cy="168.0"/><circle r="5" cx="811.2" cy="181.0"/><circle r="5" cx="811.2" cy="190.0"/><circle r="5" cx="822.3" cy="165.0"/><circle r="5" cx="842.4" cy="210.3"/><circle r="5" cx="856.1" cy="207.7"/><circle r="5" cx="826.9" cy="188.0"/><circle r="5" cx="826.9" cy="189.3"/><circle r="5" cx="826.9" cy="190.5"/><circle r="5" cx="826.9" cy="191.7"/><circle r="5" cx="826.9" cy="193.5"/><circle r="5" cx="826.9" cy="195.8"/><circle r="5" cx="826.9" cy="196.3"/><circle r="5" cx="826.9" cy="198.4"/><circle r="5" cx="826.9" cy="199.2"/><circle r="5" cx="826.9" cy="201.6"/><circle r="5" cx="826.9" cy="202.5"/><circle r="5" cx="826.9" cy="204.5"/><circle r="5" cx="826.9" cy="205.5"/><circle r="5" cx="826.9" cy="208.0"/><circle r="5" cx="826.9" cy="209.4"/><circle r="5" cx="826.9" cy="210.5"/><circle r="5" cx="861.9" cy="60.4"/><circle r="5" cx="871.7" cy="60.4"/><circle r="5" cx="866.8" cy="68.2"/><circle r="5" cx="862.5" cy="72.5"/><circle r="5" cx="867.5" cy="93.6"/><circle r="5" cx="871.7" cy="102.0"/><circle r="5" cx="871.7" cy="104.0"/><circle r="5" cx="871.7" cy="106.0"/><circle r="5" cx="878.0" cy="94.0"/><circle r="5" cx="871.0" cy="113.3"/><circle r="5" cx="871.0" cy="119.0"/><circle r="5" cx="856.9" cy="108.5"/><circle r="5" cx="856.9" cy="110.5"/><circle r="5" cx="890.8" cy="111.7"/><circle r="5" cx="890.8" cy="113.2"/><circle r="5" cx="890.8" cy="114.4"/><circle r="5" cx="890.8" cy="116.4"/><circle r="5" cx="890.8" cy="117.7"/><circle r="5" cx="903.5" cy="105.2"/><circle r="5" cx="903.5" cy="106.8"/><circle r="5" cx="904.9" cy="61.0"/><circle r="5" cx="904.9" cy="61.4"/><circle r="5" cx="904.9" cy="61.8"/><circle r="5" cx="919.7" cy="52.7"/><circle r="5" cx="897.8" cy="58.3"/><circle r="5" cx="927.4" cy="65.4"/><circle r="5" cx="926.0" cy="78.0"/><circle r="5" cx="926.0" cy="82.3"/><circle r="5" cx="913.3" cy="86.5"/><circle r="5" cx="913.3" cy="86.9"/><circle r="5" cx="906.3" cy="80.9"/><circle r="5" cx="916.2" cy="95.0"/><circle r="5" cx="917.6" cy="104.9"/><circle r="5" cx="913.3" cy="113.3"/><circle r="5" cx="897.5" cy="70.0"/><circle r="5" cx="898.5" cy="90.0"/><circle r="5" cx="911.0" cy="72.0"/><circle r="5" cx="947.9" cy="62.6"/><circle r="5" cx="947.9" cy="63.0"/><circle r="5" cx="957.8" cy="64.7"/><circle r="5" cx="957.8" cy="95.0"/><circle r="5" cx="957.8" cy="95.5"/><circle r="5" cx="968.3" cy="92.9"/><circle r="5" cx="957.8" cy="105.6"/><circle r="5" cx="988.8" cy="108.4"/><circle r="5" cx="947.2" cy="123.2"/><circle r="5" cx="947.2" cy="128.1"/><circle r="5" cx="871.0" cy="134.5"/><circle r="5" cx="871.0" cy="134.9"/><circle r="5" cx="871.0" cy="135.3"/><circle r="5" cx="856.2" cy="141.5"/><circle r="5" cx="856.2" cy="147.9"/><circle r="5" cx="856.2" cy="157.0"/><circle r="5" cx="894.3" cy="137.3"/><circle r="5" cx="885.1" cy="143.6"/><circle r="5" cx="889.4" cy="147.9"/><circle r="5" cx="894.3" cy="144.4"/><circle r="5" cx="879.5" cy="164.0"/><circle r="5" cx="885.1" cy="167.6"/><circle r="5" cx="939.4" cy="145.8"/><circle r="5" cx="939.4" cy="164.0"/><circle r="5" cx="947.2" cy="157.0"/><circle r="5" cx="952.8" cy="143.6"/><circle r="5" cx="947.2" cy="165.5"/><circle r="5" cx="955.6" cy="165.5"/><circle r="5" cx="866.0" cy="140.0"/><circle r="5" cx="913.0" cy="140.0"/><circle r="5" cx="932.0" cy="150.0"/><circle r="5" cx="917.0" cy="125.0"/><circle r="5" cx="793.0" cy="232.5"/><circle r="5" cx="756.0" cy="220.6"/><circle r="5" cx="703.7" cy="263.7"/><circle r="5" cx="704.3" cy="284.2"/><circle r="5" cx="695.6" cy="261.2"/><circle r="5" cx="699.4" cy="296.6"/><circle r="5" cx="695.0" cy="279.4"/><circle r="5" cx="702.0" cy="267.4"/><circle r="5" cx="710.2" cy="287.5"/><circle r="5" cx="698.7" cy="250.8"/><circle r="5" cx="698.3" cy="306.9"/><circle r="5" cx="699.0" cy="242.7"/><circle r="5" cx="709.1" cy="277.4"/><circle r="5" cx="718.9" cy="236.4"/><circle r="5" cx="701.3" cy="245.1"/><circle r="5" cx="710.8" cy="267.3"/><circle r="5" cx="706.0" cy="301.3"/><circle r="5" cx="712.9" cy="299.1"/><circle r="5" cx="688.1" cy="293.0"/><circle r="5" cx="687.4" cy="296.6"/><circle r="5" cx="647.3" cy="309.8"/><circle r="5" cx="649.7" cy="286.5"/><circle r="5" cx="658.0" cy="293.5"/><circle r="5" cx="688.5" cy="308.6"/><circle r="5" cx="663.9" cy="299.8"/><circle r="5" cx="683.2" cy="307.0"/><circle r="5" cx="674.4" cy="299.3"/><circle r="5" cx="650.2" cy="292.3"/><circle r="5" cx="357.4" cy="685.7"/><circle r="5" cx="421.0" cy="612.5"/><circle r="5" cx="384.1" cy="624.4"/><circle r="5" cx="389.7" cy="610.8"/><circle r="5" cx="422.2" cy="628.5"/><circle r="5" cx="379.0" cy="659.2"/><circle r="5" cx="334.7" cy="688.2"/><circle r="5" cx="332.1" cy="683.3"/><circle r="5" cx="382.7" cy="627.1"/><circle r="5" cx="463.5" cy="592.0"/><circle r="5" cx="404.6" cy="614.0"/><circle r="5" cx="345.6" cy="686.1"/><circle r="5" cx="416.5" cy="612.9"/><circle r="5" cx="419.5" cy="620.0"/><circle r="5" cx="381.0" cy="654.9"/><circle r="5" cx="428.0" cy="629.9"/><circle r="5" cx="441.8" cy="608.9"/><circle r="5" cx="440.8" cy="589.3"/><circle r="5" cx="449.9" cy="590.9"/><circle r="5" cx="444.7" cy="603.0"/><circle r="5" cx="407.9" cy="621.3"/><circle r="5" cx="395.9" cy="623.0"/><circle r="5" cx="556.3" cy="493.9"/><circle r="5" cx="512.3" cy="490.5"/><circle r="5" cx="563.6" cy="465.9"/><circle r="5" cx="488.5" cy="529.5"/><circle r="5" cx="564.1" cy="435.4"/><circle r="5" cx="554.4" cy="436.9"/><circle r="5" cx="571.3" cy="470.0"/><circle r="5" cx="586.6" cy="448.9"/><circle r="5" cx="573.8" cy="417.2"/><circle r="5" cx="551.8" cy="468.7"/><circle r="5" cx="578.0" cy="455.1"/><circle r="5" cx="543.3" cy="464.7"/><circle r="5" cx="592.2" cy="429.9"/><circle r="5" cx="607.4" cy="429.2"/><circle r="5" cx="546.5" cy="463.1"/><circle r="5" cx="534.4" cy="471.6"/><circle r="5" cx="599.3" cy="414.7"/><circle r="5" cx="585.0" cy="435.3"/><circle r="5" cx="555.1" cy="448.7"/><circle r="5" cx="571.4" cy="482.5"/><circle r="5" cx="724.7" cy="334.0"/><circle r="5" cx="675.3" cy="304.5"/><circle r="5" cx="747.3" cy="281.6"/><circle r="5" cx="654.0" cy="358.9"/><circle r="5" cx="694.5" cy="329.1"/><circle r="5" cx="682.0" cy="301.8"/><circle r="5" cx="777.4" cy="268.9"/><circle r="5" cx="581.2" cy="405.3"/><circle r="5" cx="651.8" cy="349.3"/><circle r="5" cx="640.2" cy="332.5"/><circle r="5" cx="707.3" cy="312.9"/><circle r="5" cx="643.1" cy="356.9"/><circle r="5" cx="682.1" cy="361.2"/><circle r="5" cx="614.6" cy="400.2"/><circle r="5" cx="690.7" cy="320.6"/><circle r="5" cx="668.1" cy="349.5"/><circle r="5" cx="688.3" cy="357.5"/><circle r="5" cx="665.7" cy="363.8"/><circle r="5" cx="721.6" cy="277.5"/><circle r="5" cx="618.8" cy="396.9"/><circle r="5" cx="621.5" cy="399.0"/><circle r="5" cx="703.4" cy="311.6"/><circle r="5" cx="612.2" cy="400.0"/><circle r="5" cx="620.3" cy="399.2"/><circle r="5" cx="673.4" cy="310.4"/><circle r="5" cx="660.4" cy="359.1"/><circle r="5" cx="637.1" cy="394.0"/><circle r="5" cx="772.0" cy="277.8"/><circle r="5" cx="671.9" cy="347.5"/><circle r="5" cx="666.6" cy="364.9"/><circle r="5" cx="709.2" cy="281.3"/><circle r="5" cx="645.4" cy="358.0"/><circle r="5" cx="648.4" cy="354.8"/><circle r="5" cx="732.9" cy="295.4"/><circle r="5" cx="680.3" cy="329.4"/><circle r="5" cx="692.6" cy="283.3"/><circle r="5" cx="682.5" cy="336.2"/><circle r="5" cx="759.4" cy="270.9"/><circle r="5" cx="632.7" cy="401.7"/><circle r="5" cx="610.6" cy="398.8"/><circle r="5" cx="909.6" cy="104.2"/><circle r="5" cx="910.8" cy="138.7"/><circle r="5" cx="900.4" cy="129.0"/><circle r="5" cx="835.7" cy="112.1"/><circle r="5" cx="946.3" cy="56.3"/><circle r="5" cx="874.4" cy="106.7"/><circle r="5" cx="932.1" cy="51.2"/><circle r="5" cx="821.1" cy="168.7"/><circle r="5" cx="938.4" cy="74.4"/><circle r="5" cx="813.4" cy="151.1"/><circle r="5" cx="883.6" cy="138.9"/><circle r="5" cx="916.9" cy="93.6"/><circle r="5" cx="883.7" cy="105.9"/><circle r="5" cx="873.5" cy="169.8"/><circle r="5" cx="878.3" cy="71.3"/><circle r="5" cx="881.3" cy="84.0"/>
</g><g fill="#08488f" fill-opacity=".62">
<circle r="5" cx="205.5" cy="743.5"/><circle r="5" cx="205.5" cy="745.0"/><circle r="5" cx="205.5" cy="746.1"/><circle r="5" cx="205.5" cy="746.9"/><circle r="5" cx="205.5" cy="748.2"/><circle r="5" cx="205.5" cy="749.5"/><circle r="5" cx="205.5" cy="751.2"/><circle r="5" cx="205.5" cy="752.2"/><circle r="5" cx="205.5" cy="754.0"/><circle r="5" cx="205.5" cy="755.2"/><circle r="5" cx="205.5" cy="757.0"/><circle r="5" cx="205.5" cy="758.1"/><circle r="5" cx="205.5" cy="758.7"/><circle r="5" cx="205.5" cy="760.1"/><circle r="5" cx="205.5" cy="761.3"/><circle r="5" cx="205.5" cy="763.1"/><circle r="5" cx="205.5" cy="764.3"/><circle r="5" cx="205.5" cy="765.1"/><circle r="5" cx="205.5" cy="767.0"/><circle r="5" cx="205.5" cy="767.9"/><circle r="5" cx="205.5" cy="769.4"/><circle r="5" cx="205.5" cy="771.0"/><circle r="5" cx="205.5" cy="771.7"/><circle r="5" cx="205.5" cy="773.3"/><circle r="5" cx="205.5" cy="774.8"/><circle r="5" cx="205.5" cy="776.4"/><circle r="5" cx="205.5" cy="777.1"/><circle r="5" cx="205.5" cy="778.1"/><circle r="5" cx="205.5" cy="779.3"/><circle r="5" cx="205.5" cy="781.4"/><circle r="5" cx="205.5" cy="782.8"/><circle r="5" cx="205.5" cy="783.9"/><circle r="5" cx="205.5" cy="785.1"/><circle r="5" cx="205.5" cy="786.6"/><circle r="5" cx="205.5" cy="787.5"/><circle r="5" cx="205.5" cy="788.4"/><circle r="5" cx="205.5" cy="790.3"/><circle r="5" cx="205.5" cy="791.8"/><circle r="5" cx="205.5" cy="792.6"/><circle r="5" cx="205.5" cy="793.5"/><circle r="5" cx="205.5" cy="795.0"/><circle r="5" cx="205.5" cy="796.2"/><circle r="5" cx="205.5" cy="797.5"/><circle r="5" cx="205.5" cy="799.1"/><circle r="5" cx="205.5" cy="800.1"/><circle r="5" cx="205.5" cy="801.9"/><circle r="5" cx="205.5" cy="803.4"/><circle r="5" cx="205.5" cy="804.2"/><circle r="5" cx="205.5" cy="805.6"/><circle r="5" cx="205.5" cy="807.5"/><circle r="5" cx="205.5" cy="808.0"/><circle r="5" cx="205.5" cy="809.3"/><circle r="5" cx="205.5" cy="811.0"/><circle r="5" cx="205.5" cy="811.7"/><circle r="5" cx="205.5" cy="813.3"/><circle r="5" cx="205.5" cy="815.2"/><circle r="5" cx="205.5" cy="816.1"/><circle r="5" cx="205.5" cy="817.6"/><circle r="5" cx="205.5" cy="819.1"/><circle r="5" cx="205.5" cy="820.3"/><circle r="5" cx="205.5" cy="821.1"/><circle r="5" cx="205.5" cy="822.1"/><circle r="5" cx="205.5" cy="823.4"/><circle r="5" cx="205.5" cy="824.8"/><circle r="5" cx="205.5" cy="826.3"/><circle r="5" cx="205.5" cy="827.2"/><circle r="5" cx="205.5" cy="828.6"/><circle r="5" cx="205.5" cy="829.8"/><circle r="5" cx="205.5" cy="831.7"/><circle r="5" cx="205.5" cy="832.7"/><circle r="5" cx="205.5" cy="834.1"/><circle r="5" cx="205.5" cy="835.9"/><circle r="5" cx="205.5" cy="836.8"/><circle r="5" cx="205.5" cy="837.7"/><circle r="5" cx="205.5" cy="839.2"/><circle r="5" cx="205.5" cy="841.0"/><circle r="5" cx="205.5" cy="841.5"/><circle r="5" cx="205.5" cy="843.3"/><circle r="5" cx="205.5" cy="844.6"/><circle r="5" cx="205.5" cy="845.9"/><circle r="5" cx="205.5" cy="847.6"/><circle r="5" cx="205.5" cy="848.2"/><circle r="5" cx="205.5" cy="849.4"/><circle r="5" cx="205.5" cy="851.1"/><circle r="5" cx="205.5" cy="852.2"/><circle r="5" cx="205.5" cy="854.0"/><circle r="5" cx="205.5" cy="855.3"/><circle r="5" cx="205.5" cy="856.6"/><circle r="5" cx="205.5" cy="857.3"/><circle r="5" cx="205.5" cy="858.7"/><circle r="5" cx="205.5" cy="859.6"/><circle r="5" cx="205.5" cy="861.2"/><circle r="5" cx="205.5" cy="863.2"/><circle r="5" cx="205.5" cy="864.5"/><circle r="5" cx="205.5" cy="865.8"/><circle r="5" cx="205.5" cy="866.3"/><circle r="5" cx="205.5" cy="867.6"/><circle r="5" cx="205.5" cy="869.3"/><circle r="5" cx="205.5" cy="870.5"/><circle r="5" cx="189.8" cy="836.7"/><circle r="5" cx="189.8" cy="837.5"/><circle r="5" cx="189.8" cy="840.2"/><circle r="5" cx="189.8" cy="841.5"/><circle r="5" cx="189.8" cy="842.4"/><circle r="5" cx="189.8" cy="844.1"/><circle r="5" cx="189.8" cy="846.5"/><circle r="5" cx="189.8" cy="847.4"/><circle r="5" cx="189.8" cy="849.3"/><circle r="5" cx="189.8" cy="850.1"/><circle r="5" cx="189.8" cy="852.7"/><circle r="5" cx="189.8" cy="853.3"/><circle r="5" cx="189.8" cy="855.9"/><circle r="5" cx="189.8" cy="856.7"/><circle r="5" cx="189.8" cy="858.0"/><circle r="5" cx="189.8" cy="860.6"/><circle r="5" cx="189.8" cy="861.6"/><circle r="5" cx="189.8" cy="863.1"/><circle r="5" cx="189.8" cy="865.1"/><circle r="5" cx="189.8" cy="866.0"/><circle r="5" cx="189.8" cy="867.5"/><circle r="5" cx="189.8" cy="869.1"/><circle r="5" cx="189.8" cy="870.5"/><circle r="5" cx="189.8" cy="817.5"/><circle r="5" cx="189.8" cy="822.5"/><circle r="5" cx="189.8" cy="826.5"/><circle r="5" cx="189.8" cy="831.5"/><circle r="5" cx="233.8" cy="745.6"/><circle r="5" cx="233.8" cy="748.2"/><circle r="5" cx="233.8" cy="750.0"/><circle r="5" cx="233.8" cy="753.2"/><circle r="5" cx="233.8" cy="757.3"/><circle r="5" cx="233.8" cy="759.2"/><circle r="5" cx="233.8" cy="762.5"/><circle r="5" cx="233.8" cy="764.3"/><circle r="5" cx="233.8" cy="767.5"/><circle r="5" cx="233.8" cy="771.5"/><circle r="5" cx="233.8" cy="773.8"/><circle r="5" cx="233.8" cy="776.5"/><circle r="5" cx="233.8" cy="790.0"/><circle r="5" cx="233.8" cy="795.6"/><circle r="5" cx="233.8" cy="801.3"/><circle r="5" cx="233.8" cy="807.4"/><circle r="5" cx="233.8" cy="814.5"/><circle r="5" cx="233.8" cy="819.5"/><circle r="5" cx="233.8" cy="839.9"/><circle r="5" cx="233.8" cy="847.5"/><circle r="5" cx="233.8" cy="861.5"/><circle r="5" cx="233.8" cy="863.3"/><circle r="5" cx="233.8" cy="866.1"/><circle r="5" cx="233.8" cy="870.4"/><circle r="5" cx="233.8" cy="871.7"/><circle r="5" cx="224.4" cy="751.8"/><circle r="5" cx="224.4" cy="755.0"/><circle r="5" cx="224.4" cy="756.2"/><circle r="5" cx="224.4" cy="759.3"/><circle r="5" cx="224.4" cy="763.2"/><circle r="5" cx="224.4" cy="764.1"/><circle r="5" cx="224.4" cy="767.5"/><circle r="5" cx="224.4" cy="769.5"/><circle r="5" cx="224.4" cy="773.3"/><circle r="5" cx="224.4" cy="775.5"/><circle r="5" cx="224.4" cy="833.5"/><circle r="5" cx="224.4" cy="838.6"/><circle r="5" cx="224.4" cy="841.2"/><circle r="5" cx="224.4" cy="847.5"/><circle r="5" cx="224.4" cy="864.5"/><circle r="5" cx="224.4" cy="865.8"/><circle r="5" cx="278.6" cy="733.5"/><circle r="5" cx="278.6" cy="735.0"/><circle r="5" cx="278.6" cy="737.2"/><circle r="5" cx="278.6" cy="737.9"/><circle r="5" cx="278.6" cy="740.1"/><circle r="5" cx="278.6" cy="741.1"/><circle r="5" cx="278.6" cy="743.5"/><circle r="5" cx="278.6" cy="744.3"/><circle r="5" cx="278.6" cy="746.7"/><circle r="5" cx="278.6" cy="747.6"/><circle r="5" cx="278.6" cy="749.2"/><circle r="5" cx="278.6" cy="751.3"/><circle r="5" cx="278.6" cy="753.1"/><circle r="5" cx="278.6" cy="754.3"/><circle r="5" cx="278.6" cy="756.3"/><circle r="5" cx="278.6" cy="757.4"/><circle r="5" cx="341.4" cy="738.5"/><circle r="5" cx="341.4" cy="740.8"/><circle r="5" cx="341.4" cy="744.5"/><circle r="5" cx="341.4" cy="746.6"/><circle r="5" cx="341.4" cy="749.0"/><circle r="5" cx="341.4" cy="751.5"/><circle r="5" cx="341.4" cy="755.2"/><circle r="5" cx="341.4" cy="756.7"/><circle r="5" cx="341.4" cy="761.0"/><circle r="5" cx="341.4" cy="763.5"/><circle r="5" cx="341.4" cy="765.5"/><circle r="5" cx="325.7" cy="755.1"/><circle r="5" cx="325.7" cy="757.5"/><circle r="5" cx="262.9" cy="815.5"/><circle r="5" cx="262.9" cy="817.5"/><circle r="5" cx="218.0" cy="839.5"/><circle r="5" cx="218.0" cy="844.6"/><circle r="5" cx="218.0" cy="861.5"/><circle r="5" cx="218.0" cy="866.3"/><circle r="5" cx="172.0" cy="774.2"/><circle r="5" cx="172.0" cy="774.8"/><circle r="5" cx="195.3" cy="799.7"/><circle r="5" cx="199.0" cy="771.0"/><circle r="5" cx="216.5" cy="754.0"/><circle r="5" cx="244.8" cy="761.0"/><circle r="5" cx="251.9" cy="757.0"/><circle r="5" cx="250.3" cy="769.0"/><circle r="5" cx="257.4" cy="776.0"/><circle r="5" cx="267.6" cy="757.0"/><circle r="5" cx="286.4" cy="764.0"/><circle r="5" cx="250.3" cy="794.0"/><circle r="5" cx="240.0" cy="810.7"/><circle r="5" cx="291.9" cy="809.0"/><circle r="5" cx="251.0" cy="846.0"/><circle r="5" cx="269.0" cy="855.0"/><circle r="5" cx="250.3" cy="868.0"/><circle r="5" cx="132.8" cy="862.5"/><circle r="5" cx="132.8" cy="869.0"/><circle r="5" cx="156.4" cy="851.0"/><circle r="5" cx="156.4" cy="851.5"/><circle r="5" cx="156.4" cy="864.5"/><circle r="5" cx="172.0" cy="846.8"/><circle r="5" cx="172.0" cy="847.5"/><circle r="5" cx="166.3" cy="858.9"/><circle r="5" cx="176.5" cy="857.0"/><circle r="5" cx="354.7" cy="759.0"/><circle r="5" cx="373.6" cy="755.7"/><circle r="5" cx="383.0" cy="748.0"/><circle r="5" cx="394.0" cy="754.0"/><circle r="5" cx="394.0" cy="741.6"/><circle r="5" cx="358.0" cy="748.0"/><circle r="5" cx="367.0" cy="748.0"/><circle r="5" cx="373.6" cy="760.0"/><circle r="5" cx="205.5" cy="681.9"/><circle r="5" cx="302.1" cy="608.6"/><circle r="5" cx="331.2" cy="603.9"/><circle r="5" cx="312.3" cy="625.1"/><circle r="5" cx="325.7" cy="619.2"/><circle r="5" cx="335.1" cy="627.1"/><circle r="5" cx="331.2" cy="642.8"/><circle r="5" cx="345.6" cy="654.9"/><circle r="5" cx="345.6" cy="655.3"/><circle r="5" cx="354.7" cy="654.0"/><circle r="5" cx="278.6" cy="671.4"/><circle r="5" cx="268.3" cy="687.1"/><circle r="5" cx="278.6" cy="688.7"/><circle r="5" cx="278.6" cy="689.5"/><circle r="5" cx="288.0" cy="686.3"/><circle r="5" cx="286.4" cy="695.0"/><circle r="5" cx="278.6" cy="704.0"/><circle r="5" cx="317.8" cy="682.4"/><circle r="5" cx="317.8" cy="688.7"/><circle r="5" cx="302.1" cy="726.4"/><circle r="5" cx="374.5" cy="585.8"/><circle r="5" cx="369.5" cy="596.0"/><circle r="5" cx="401.7" cy="572.5"/><circle r="5" cx="345.6" cy="604.3"/><circle r="5" cx="345.6" cy="609.0"/><circle r="5" cx="345.6" cy="611.4"/><circle r="5" cx="345.6" cy="619.3"/><circle r="5" cx="345.6" cy="621.7"/><circle r="5" cx="345.6" cy="627.5"/><circle r="5" cx="345.6" cy="632.2"/><circle r="5" cx="364.7" cy="608.7"/><circle r="5" cx="364.7" cy="609.6"/><circle r="5" cx="364.7" cy="611.1"/><circle r="5" cx="364.7" cy="612.9"/><circle r="5" cx="364.7" cy="614.5"/><circle r="5" cx="364.7" cy="615.6"/><circle r="5" cx="364.7" cy="617.5"/><circle r="5" cx="364.7" cy="618.7"/><circle r="5" cx="364.7" cy="619.5"/><circle r="5" cx="364.7" cy="621.0"/><circle r="5" cx="364.7" cy="622.6"/><circle r="5" cx="364.7" cy="623.7"/><circle r="5" cx="364.7" cy="625.6"/><circle r="5" cx="364.7" cy="626.5"/><circle r="5" cx="364.7" cy="627.9"/><circle r="5" cx="364.7" cy="629.3"/><circle r="5" cx="364.7" cy="630.6"/><circle r="5" cx="364.7" cy="632.9"/><circle r="5" cx="364.7" cy="634.2"/><circle r="5" cx="364.7" cy="635.8"/><circle r="5" cx="364.7" cy="636.4"/><circle r="5" cx="364.7" cy="638.4"/><circle r="5" cx="364.7" cy="639.7"/><circle r="5" cx="364.7" cy="640.8"/><circle r="5" cx="364.7" cy="642.0"/><circle r="5" cx="364.7" cy="643.5"/><circle r="5" cx="364.7" cy="645.7"/><circle r="5" cx="364.7" cy="647.1"/><circle r="5" cx="364.7" cy="647.9"/><circle r="5" cx="364.7" cy="649.8"/><circle r="5" cx="364.7" cy="650.3"/><circle r="5" cx="364.7" cy="652.1"/><circle r="5" cx="364.7" cy="653.3"/><circle r="5" cx="364.7" cy="655.5"/><circle r="5" cx="364.7" cy="656.4"/><circle r="5" cx="364.7" cy="597.0"/><circle r="5" cx="366.0" cy="600.5"/><circle r="5" cx="364.0" cy="603.0"/><circle r="5" cx="401.8" cy="592.8"/><circle r="5" cx="401.8" cy="593.5"/><circle r="5" cx="401.8" cy="596.2"/><circle r="5" cx="401.8" cy="597.6"/><circle r="5" cx="401.8" cy="598.7"/><circle r="5" cx="401.8" cy="601.1"/><circle r="5" cx="401.8" cy="601.8"/><circle r="5" cx="401.8" cy="603.5"/><circle r="5" cx="401.8" cy="604.7"/><circle r="5" cx="401.8" cy="607.5"/><circle r="5" cx="401.8" cy="609.1"/><circle r="5" cx="401.8" cy="609.8"/><circle r="5" cx="401.8" cy="612.3"/><circle r="5" cx="401.8" cy="613.2"/><circle r="5" cx="401.8" cy="614.9"/><circle r="5" cx="401.8" cy="617.1"/><circle r="5" cx="401.8" cy="618.5"/><circle r="5" cx="401.8" cy="620.2"/><circle r="5" cx="401.8" cy="621.5"/><circle r="5" cx="401.8" cy="622.7"/><circle r="5" cx="401.8" cy="624.9"/><circle r="5" cx="401.8" cy="625.8"/><circle r="5" cx="401.8" cy="627.5"/><circle r="5" cx="401.8" cy="628.8"/><circle r="5" cx="401.8" cy="630.8"/><circle r="5" cx="401.8" cy="633.1"/><circle r="5" cx="401.8" cy="633.9"/><circle r="5" cx="401.8" cy="635.3"/><circle r="5" cx="401.8" cy="637.7"/><circle r="5" cx="401.8" cy="638.7"/><circle r="5" cx="302.5" cy="653.8"/><circle r="5" cx="302.5" cy="656.8"/><circle r="5" cx="302.5" cy="659.4"/><circle r="5" cx="302.5" cy="662.6"/><circle r="5" cx="302.5" cy="664.8"/><circle r="5" cx="302.5" cy="667.9"/><circle r="5" cx="302.5" cy="669.6"/><circle r="5" cx="302.5" cy="672.2"/><circle r="5" cx="302.5" cy="675.9"/><circle r="5" cx="302.5" cy="678.3"/><circle r="5" cx="302.5" cy="681.3"/><circle r="5" cx="302.5" cy="684.7"/><circle r="5" cx="302.5" cy="687.9"/><circle r="5" cx="302.5" cy="689.6"/><circle r="5" cx="302.5" cy="693.1"/><circle r="5" cx="302.5" cy="694.1"/><circle r="5" cx="302.5" cy="697.1"/><circle r="5" cx="302.5" cy="701.8"/><circle r="5" cx="302.5" cy="703.5"/><circle r="5" cx="331.2" cy="674.0"/><circle r="5" cx="331.2" cy="676.9"/><circle r="5" cx="331.2" cy="685.7"/><circle r="5" cx="331.2" cy="689.8"/><circle r="5" cx="331.2" cy="693.8"/><circle r="5" cx="331.2" cy="699.2"/><circle r="5" cx="331.2" cy="705.4"/><circle r="5" cx="341.4" cy="683.9"/><circle r="5" cx="341.4" cy="686.5"/><circle r="5" cx="341.4" cy="694.5"/><circle r="5" cx="341.4" cy="698.2"/><circle r="5" cx="341.4" cy="705.5"/><circle r="5" cx="341.4" cy="707.7"/><circle r="5" cx="354.6" cy="677.0"/><circle r="5" cx="354.6" cy="680.0"/><circle r="5" cx="354.6" cy="681.7"/><circle r="5" cx="354.6" cy="684.9"/><circle r="5" cx="354.6" cy="687.4"/><circle r="5" cx="354.6" cy="690.1"/><circle r="5" cx="354.6" cy="692.9"/><circle r="5" cx="354.6" cy="696.7"/><circle r="5" cx="354.6" cy="698.4"/><circle r="5" cx="354.6" cy="701.9"/><circle r="5" cx="354.6" cy="703.0"/><circle r="5" cx="354.6" cy="706.6"/><circle r="5" cx="354.6" cy="709.3"/><circle r="5" cx="370.4" cy="673.5"/><circle r="5" cx="370.4" cy="674.5"/><circle r="5" cx="370.4" cy="676.8"/><circle r="5" cx="370.4" cy="677.7"/><circle r="5" cx="370.4" cy="679.6"/><circle r="5" cx="370.4" cy="680.8"/><circle r="5" cx="370.4" cy="682.9"/><circle r="5" cx="370.4" cy="683.9"/><circle r="5" cx="370.4" cy="686.3"/><circle r="5" cx="370.4" cy="687.1"/><circle r="5" cx="370.4" cy="689.6"/><circle r="5" cx="370.4" cy="690.6"/><circle r="5" cx="370.4" cy="692.7"/><circle r="5" cx="370.4" cy="694.2"/><circle r="5" cx="370.4" cy="695.7"/><circle r="5" cx="370.4" cy="697.2"/><circle r="5" cx="370.4" cy="698.3"/><circle r="5" cx="370.4" cy="700.4"/><circle r="5" cx="370.4" cy="701.1"/><circle r="5" cx="383.3" cy="661.5"/><circle r="5" cx="383.3" cy="663.4"/><circle r="5" cx="383.3" cy="667.5"/><circle r="5" cx="383.3" cy="668.7"/><circle r="5" cx="383.3" cy="673.1"/><circle r="5" cx="383.3" cy="676.0"/><circle r="5" cx="383.3" cy="678.2"/><circle r="5" cx="383.3" cy="681.0"/><circle r="5" cx="383.3" cy="683.3"/><circle r="5" cx="383.3" cy="686.1"/><circle r="5" cx="383.3" cy="688.8"/><circle r="5" cx="383.3" cy="690.7"/><circle r="5" cx="383.3" cy="694.4"/><circle r="5" cx="383.3" cy="697.2"/><circle r="5" cx="399.8" cy="673.5"/><circle r="5" cx="399.7" cy="677.1"/><circle r="5" cx="400.4" cy="679.7"/><circle r="5" cx="400.5" cy="683.3"/><circle r="5" cx="410.9" cy="673.5"/><circle r="5" cx="411.0" cy="677.7"/><circle r="5" cx="412.4" cy="681.7"/><circle r="5" cx="410.9" cy="684.8"/><circle r="5" cx="411.6" cy="688.5"/><circle r="5" cx="422.9" cy="674.4"/><circle r="5" cx="422.9" cy="677.2"/><circle r="5" cx="422.9" cy="679.9"/><circle r="5" cx="422.9" cy="681.7"/><circle r="5" cx="422.9" cy="685.4"/><circle r="5" cx="422.9" cy="688.5"/><circle r="5" cx="393.7" cy="733.0"/><circle r="5" cx="393.7" cy="739.0"/><circle r="5" cx="383.6" cy="749.0"/><circle r="5" cx="370.5" cy="711.0"/><circle r="5" cx="352.0" cy="752.0"/><circle r="5" cx="362.0" cy="755.0"/><circle r="5" cx="373.0" cy="757.0"/><circle r="5" cx="383.6" cy="742.0"/><circle r="5" cx="435.0" cy="548.1"/><circle r="5" cx="435.0" cy="549.5"/><circle r="5" cx="435.0" cy="550.2"/><circle r="5" cx="435.0" cy="552.3"/><circle r="5" cx="435.0" cy="553.9"/><circle r="5" cx="435.0" cy="555.5"/><circle r="5" cx="435.0" cy="556.3"/><circle r="5" cx="435.0" cy="558.3"/><circle r="5" cx="435.0" cy="559.8"/><circle r="5" cx="435.0" cy="561.1"/><circle r="5" cx="435.0" cy="562.9"/><circle r="5" cx="435.0" cy="564.1"/><circle r="5" cx="435.0" cy="565.8"/><circle r="5" cx="435.0" cy="566.9"/><circle r="5" cx="435.0" cy="568.2"/><circle r="5" cx="435.0" cy="569.8"/><circle r="5" cx="435.0" cy="571.3"/><circle r="5" cx="435.0" cy="573.1"/><circle r="5" cx="435.0" cy="574.2"/><circle r="5" cx="435.0" cy="576.6"/><circle r="5" cx="435.0" cy="578.1"/><circle r="5" cx="435.0" cy="578.8"/><circle r="5" cx="435.0" cy="580.7"/><circle r="5" cx="435.0" cy="582.8"/><circle r="5" cx="435.0" cy="583.4"/><circle r="5" cx="435.0" cy="585.9"/><circle r="5" cx="435.0" cy="586.5"/><circle r="5" cx="435.0" cy="588.0"/><circle r="5" cx="435.0" cy="590.4"/><circle r="5" cx="435.0" cy="591.5"/><circle r="5" cx="431.0" cy="601.0"/><circle r="5" cx="435.0" cy="603.0"/><circle r="5" cx="433.0" cy="608.0"/><circle r="5" cx="430.0" cy="613.0"/><circle r="5" cx="436.0" cy="616.0"/><circle r="5" cx="431.0" cy="619.0"/><circle r="5" cx="431.0" cy="619.1"/><circle r="5" cx="431.0" cy="622.5"/><circle r="5" cx="431.0" cy="631.4"/><circle r="5" cx="431.0" cy="635.2"/><circle r="5" cx="496.5" cy="600.0"/><circle r="5" cx="496.5" cy="606.0"/><circle r="5" cx="345.3" cy="602.5"/><circle r="5" cx="345.3" cy="607.4"/><circle r="5" cx="345.3" cy="613.7"/><circle r="5" cx="345.3" cy="622.4"/><circle r="5" cx="345.3" cy="627.8"/><circle r="5" cx="345.3" cy="629.8"/><circle r="5" cx="451.0" cy="582.0"/><circle r="5" cx="451.0" cy="582.5"/><circle r="5" cx="451.0" cy="583.0"/><circle r="5" cx="451.0" cy="604.0"/><circle r="5" cx="451.0" cy="620.4"/><circle r="5" cx="446.0" cy="631.5"/><circle r="5" cx="474.2" cy="589.0"/><circle r="5" cx="482.3" cy="600.0"/><circle r="5" cx="489.3" cy="619.4"/><circle r="5" cx="521.5" cy="572.0"/><circle r="5" cx="521.5" cy="572.6"/><circle r="5" cx="521.5" cy="573.3"/><circle r="5" cx="531.6" cy="577.0"/><circle r="5" cx="521.5" cy="585.0"/><circle r="5" cx="513.5" cy="562.0"/><circle r="5" cx="441.0" cy="673.8"/><circle r="5" cx="446.0" cy="681.9"/><circle r="5" cx="452.0" cy="683.0"/><circle r="5" cx="440.0" cy="690.0"/><circle r="5" cx="464.8" cy="689.0"/><circle r="5" cx="423.3" cy="704.0"/><circle r="5" cx="464.4" cy="581.5"/><circle r="5" cx="463.5" cy="580.1"/><circle r="5" cx="465.4" cy="570.3"/><circle r="5" cx="468.6" cy="567.8"/><circle r="5" cx="468.2" cy="569.4"/><circle r="5" cx="460.0" cy="570.0"/><circle r="5" cx="467.6" cy="585.6"/><circle r="5" cx="460.0" cy="575.8"/><circle r="5" cx="435.4" cy="520.0"/><circle r="5" cx="435.4" cy="523.5"/><circle r="5" cx="494.5" cy="477.0"/><circle r="5" cx="494.2" cy="480.0"/><circle r="5" cx="494.3" cy="480.7"/><circle r="5" cx="494.4" cy="483.6"/><circle r="5" cx="494.3" cy="485.8"/><circle r="5" cx="494.2" cy="488.5"/><circle r="5" cx="494.6" cy="490.0"/><circle r="5" cx="494.4" cy="491.8"/><circle r="5" cx="494.5" cy="494.3"/><circle r="5" cx="494.7" cy="496.1"/><circle r="5" cx="493.8" cy="498.7"/><circle r="5" cx="494.1" cy="500.7"/><circle r="5" cx="494.1" cy="502.4"/><circle r="5" cx="494.4" cy="505.3"/><circle r="5" cx="494.0" cy="507.4"/><circle r="5" cx="494.4" cy="509.4"/><circle r="5" cx="494.2" cy="512.8"/><circle r="5" cx="494.5" cy="513.7"/><circle r="5" cx="493.9" cy="516.2"/><circle r="5" cx="494.5" cy="518.0"/><circle r="5" cx="494.3" cy="521.4"/><circle r="5" cx="494.3" cy="522.9"/><circle r="5" cx="494.7" cy="524.7"/><circle r="5" cx="494.3" cy="527.1"/><circle r="5" cx="494.5" cy="530.1"/><circle r="5" cx="494.0" cy="531.7"/><circle r="5" cx="493.8" cy="534.0"/><circle r="5" cx="494.1" cy="536.7"/><circle r="5" cx="494.0" cy="538.9"/><circle r="5" cx="494.0" cy="540.3"/><circle r="5" cx="493.9" cy="542.6"/><circle r="5" cx="494.4" cy="544.0"/><circle r="5" cx="493.9" cy="546.7"/><circle r="5" cx="494.2" cy="548.9"/><circle r="5" cx="494.3" cy="551.3"/><circle r="5" cx="494.1" cy="553.9"/><circle r="5" cx="494.6" cy="556.6"/><circle r="5" cx="494.5" cy="557.3"/><circle r="5" cx="494.5" cy="560.9"/><circle r="5" cx="494.5" cy="561.8"/><circle r="5" cx="493.7" cy="564.8"/><circle r="5" cx="494.7" cy="565.9"/><circle r="5" cx="494.0" cy="569.3"/><circle r="5" cx="493.8" cy="570.5"/><circle r="5" cx="494.5" cy="572.9"/><circle r="5" cx="493.9" cy="575.3"/><circle r="5" cx="494.5" cy="578.5"/><circle r="5" cx="494.6" cy="579.4"/><circle r="5" cx="494.5" cy="582.3"/><circle r="5" cx="494.6" cy="584.6"/><circle r="5" cx="494.5" cy="587.0"/><circle r="5" cx="494.4" cy="588.2"/><circle r="5" cx="494.4" cy="590.9"/><circle r="5" cx="498.8" cy="480.5"/><circle r="5" cx="498.2" cy="483.0"/><circle r="5" cx="498.0" cy="484.8"/><circle r="5" cx="498.0" cy="487.7"/><circle r="5" cx="498.0" cy="490.0"/><circle r="5" cx="498.4" cy="492.5"/><circle r="5" cx="498.8" cy="495.0"/><circle r="5" cx="498.7" cy="496.4"/><circle r="5" cx="498.5" cy="499.6"/><circle r="5" cx="498.7" cy="502.4"/><circle r="5" cx="498.3" cy="504.3"/><circle r="5" cx="498.0" cy="507.8"/><circle r="5" cx="498.5" cy="509.6"/><circle r="5" cx="498.5" cy="510.8"/><circle r="5" cx="498.8" cy="514.5"/><circle r="5" cx="498.9" cy="516.2"/><circle r="5" cx="498.4" cy="518.9"/><circle r="5" cx="497.9" cy="522.1"/><circle r="5" cx="498.5" cy="524.1"/><circle r="5" cx="498.8" cy="525.8"/><circle r="5" cx="498.4" cy="528.2"/><circle r="5" cx="498.7" cy="530.9"/><circle r="5" cx="498.3" cy="532.7"/><circle r="5" cx="498.5" cy="535.6"/><circle r="5" cx="498.2" cy="538.7"/><circle r="5" cx="498.3" cy="541.1"/><circle r="5" cx="498.2" cy="542.9"/><circle r="5" cx="498.9" cy="545.3"/><circle r="5" cx="498.7" cy="548.0"/><circle r="5" cx="498.2" cy="549.8"/><circle r="5" cx="498.5" cy="552.1"/><circle r="5" cx="498.7" cy="555.2"/><circle r="5" cx="498.6" cy="556.4"/><circle r="5" cx="498.4" cy="560.4"/><circle r="5" cx="498.2" cy="561.2"/><circle r="5" cx="498.1" cy="563.6"/><circle r="5" cx="498.5" cy="567.7"/><circle r="5" cx="498.7" cy="569.6"/><circle r="5" cx="498.5" cy="572.5"/><circle r="5" cx="498.5" cy="574.3"/><circle r="5" cx="498.5" cy="576.9"/><circle r="5" cx="498.1" cy="579.2"/><circle r="5" cx="498.4" cy="581.6"/><circle r="5" cx="498.0" cy="584.2"/><circle r="5" cx="497.9" cy="585.5"/><circle r="5" cx="498.8" cy="589.0"/><circle r="5" cx="498.3" cy="590.9"/><circle r="5" cx="496.3" cy="469.3"/><circle r="5" cx="496.3" cy="471.5"/><circle r="5" cx="525.0" cy="442.5"/><circle r="5" cx="525.0" cy="444.9"/><circle r="5" cx="525.0" cy="448.3"/><circle r="5" cx="525.0" cy="449.8"/><circle r="5" cx="525.0" cy="452.5"/><circle r="5" cx="525.0" cy="457.0"/><circle r="5" cx="525.0" cy="460.0"/><circle r="5" cx="525.0" cy="460.8"/><circle r="5" cx="525.0" cy="464.8"/><circle r="5" cx="525.0" cy="468.4"/><circle r="5" cx="525.0" cy="470.0"/><circle r="5" cx="525.0" cy="473.2"/><circle r="5" cx="525.0" cy="474.9"/><circle r="5" cx="525.0" cy="477.3"/><circle r="5" cx="525.0" cy="480.4"/><circle r="5" cx="525.0" cy="483.1"/><circle r="5" cx="525.0" cy="485.9"/><circle r="5" cx="525.0" cy="489.5"/><circle r="5" cx="525.0" cy="495.4"/><circle r="5" cx="525.0" cy="496.1"/><circle r="5" cx="525.0" cy="498.6"/><circle r="5" cx="525.0" cy="500.2"/><circle r="5" cx="525.0" cy="501.7"/><circle r="5" cx="525.0" cy="503.1"/><circle r="5" cx="525.0" cy="504.4"/><circle r="5" cx="525.0" cy="506.6"/><circle r="5" cx="525.0" cy="507.3"/><circle r="5" cx="525.0" cy="510.0"/><circle r="5" cx="525.0" cy="510.9"/><circle r="5" cx="525.0" cy="512.4"/><circle r="5" cx="525.0" cy="514.4"/><circle r="5" cx="525.0" cy="515.8"/><circle r="5" cx="525.0" cy="517.5"/><circle r="5" cx="525.0" cy="518.8"/><circle r="5" cx="525.0" cy="520.6"/><circle r="5" cx="525.0" cy="522.6"/><circle r="5" cx="525.0" cy="523.9"/><circle r="5" cx="525.0" cy="526.2"/><circle r="5" cx="525.0" cy="527.3"/><circle r="5" cx="525.0" cy="528.3"/><circle r="5" cx="525.0" cy="530.7"/><circle r="5" cx="525.0" cy="531.9"/><circle r="5" cx="525.0" cy="534.3"/><circle r="5" cx="525.0" cy="535.4"/><circle r="5" cx="525.0" cy="536.8"/><circle r="5" cx="525.0" cy="538.3"/><circle r="5" cx="525.0" cy="543.7"/><circle r="5" cx="525.0" cy="546.9"/><circle r="5" cx="525.0" cy="547.8"/><circle r="5" cx="525.0" cy="551.5"/><circle r="5" cx="525.0" cy="555.0"/><circle r="5" cx="525.0" cy="556.1"/><circle r="5" cx="525.0" cy="560.5"/><circle r="5" cx="525.0" cy="562.5"/><circle r="5" cx="530.0" cy="495.9"/><circle r="5" cx="530.0" cy="498.3"/><circle r="5" cx="530.0" cy="500.3"/><circle r="5" cx="530.0" cy="503.5"/><circle r="5" cx="530.0" cy="505.5"/><circle r="5" cx="530.0" cy="509.8"/><circle r="5" cx="530.0" cy="511.9"/><circle r="5" cx="530.0" cy="514.3"/><circle r="5" cx="530.0" cy="516.6"/><circle r="5" cx="530.0" cy="520.6"/><circle r="5" cx="530.0" cy="521.8"/><circle r="5" cx="530.0" cy="526.0"/><circle r="5" cx="530.0" cy="528.4"/><circle r="5" cx="530.0" cy="531.8"/><circle r="5" cx="530.0" cy="533.6"/><circle r="5" cx="530.0" cy="535.8"/><circle r="5" cx="530.0" cy="538.5"/><circle r="5" cx="530.0" cy="541.7"/><circle r="5" cx="530.0" cy="544.5"/><circle r="5" cx="530.0" cy="546.7"/><circle r="5" cx="530.0" cy="551.3"/><circle r="5" cx="530.0" cy="552.1"/><circle r="5" cx="530.0" cy="556.4"/><circle r="5" cx="530.0" cy="558.5"/><circle r="5" cx="550.2" cy="444.8"/><circle r="5" cx="550.2" cy="445.7"/><circle r="5" cx="550.2" cy="448.0"/><circle r="5" cx="550.2" cy="449.1"/><circle r="5" cx="550.2" cy="450.7"/><circle r="5" cx="550.2" cy="452.3"/><circle r="5" cx="550.2" cy="453.6"/><circle r="5" cx="550.2" cy="454.3"/><circle r="5" cx="550.2" cy="455.7"/><circle r="5" cx="550.2" cy="456.9"/><circle r="5" cx="550.2" cy="458.9"/><circle r="5" cx="550.2" cy="460.2"/><circle r="5" cx="550.2" cy="462.1"/><circle r="5" cx="550.2" cy="463.1"/><circle r="5" cx="550.2" cy="464.0"/><circle r="5" cx="550.2" cy="465.5"/><circle r="5" cx="550.2" cy="467.4"/><circle r="5" cx="550.2" cy="468.8"/><circle r="5" cx="550.2" cy="469.9"/><circle r="5" cx="550.2" cy="471.9"/><circle r="5" cx="550.2" cy="472.5"/><circle r="5" cx="550.2" cy="473.9"/><circle r="5" cx="550.2" cy="476.1"/><circle r="5" cx="550.2" cy="477.4"/><circle r="5" cx="550.2" cy="478.7"/><circle r="5" cx="550.2" cy="480.0"/><circle r="5" cx="550.2" cy="480.7"/><circle r="5" cx="550.2" cy="482.9"/><circle r="5" cx="550.2" cy="484.2"/><circle r="5" cx="550.2" cy="485.5"/><circle r="5" cx="550.2" cy="486.4"/><circle r="5" cx="550.2" cy="487.9"/><circle r="5" cx="550.2" cy="489.6"/><circle r="5" cx="550.2" cy="490.7"/><circle r="5" cx="550.2" cy="492.6"/><circle r="5" cx="550.2" cy="494.0"/><circle r="5" cx="550.2" cy="494.7"/><circle r="5" cx="550.2" cy="496.3"/><circle r="5" cx="550.2" cy="498.4"/><circle r="5" cx="550.2" cy="499.0"/><circle r="5" cx="550.2" cy="500.3"/><circle r="5" cx="550.2" cy="502.2"/><circle r="5" cx="550.2" cy="418.5"/><circle r="5" cx="550.2" cy="426.5"/><circle r="5" cx="550.2" cy="431.8"/><circle r="5" cx="550.2" cy="436.1"/><circle r="5" cx="550.2" cy="509.0"/><circle r="5" cx="550.2" cy="513.7"/><circle r="5" cx="550.2" cy="523.1"/><circle r="5" cx="550.2" cy="530.9"/><circle r="5" cx="550.2" cy="544.2"/><circle r="5" cx="550.2" cy="548.2"/><circle r="5" cx="565.3" cy="402.5"/><circle r="5" cx="565.3" cy="403.5"/><circle r="5" cx="565.3" cy="404.9"/><circle r="5" cx="565.3" cy="407.0"/><circle r="5" cx="565.3" cy="408.3"/><circle r="5" cx="565.3" cy="409.4"/><circle r="5" cx="565.3" cy="411.0"/><circle r="5" cx="565.3" cy="413.2"/><circle r="5" cx="565.3" cy="413.6"/><circle r="5" cx="565.3" cy="415.5"/><circle r="5" cx="565.3" cy="425.1"/><circle r="5" cx="565.3" cy="429.3"/><circle r="5" cx="565.3" cy="431.5"/><circle r="5" cx="565.3" cy="438.5"/><circle r="5" cx="565.3" cy="447.4"/><circle r="5" cx="565.3" cy="450.7"/><circle r="5" cx="565.3" cy="461.8"/><circle r="5" cx="565.3" cy="466.9"/><circle r="5" cx="565.3" cy="471.7"/><circle r="5" cx="565.3" cy="479.5"/><circle r="5" cx="565.3" cy="481.0"/><circle r="5" cx="565.3" cy="485.3"/><circle r="5" cx="565.3" cy="487.6"/><circle r="5" cx="565.3" cy="491.4"/><circle r="5" cx="565.3" cy="494.2"/><circle r="5" cx="565.3" cy="500.5"/><circle r="5" cx="565.3" cy="505.8"/><circle r="5" cx="565.3" cy="509.5"/><circle r="5" cx="580.4" cy="407.2"/><circle r="5" cx="580.4" cy="410.3"/><circle r="5" cx="580.4" cy="412.5"/><circle r="5" cx="580.4" cy="416.5"/><circle r="5" cx="580.4" cy="419.4"/><circle r="5" cx="580.4" cy="420.7"/><circle r="5" cx="580.4" cy="424.2"/><circle r="5" cx="580.4" cy="440.0"/><circle r="5" cx="580.4" cy="443.0"/><circle r="5" cx="578.4" cy="450.5"/><circle r="5" cx="578.4" cy="452.1"/><circle r="5" cx="578.4" cy="455.7"/><circle r="5" cx="578.4" cy="457.7"/><circle r="5" cx="578.4" cy="461.8"/><circle r="5" cx="578.4" cy="463.5"/><circle r="5" cx="578.4" cy="466.2"/><circle r="5" cx="578.4" cy="468.2"/><circle r="5" cx="578.4" cy="472.8"/><circle r="5" cx="578.4" cy="474.5"/><circle r="5" cx="578.4" cy="477.2"/><circle r="5" cx="578.4" cy="480.8"/><circle r="5" cx="578.4" cy="481.8"/><circle r="5" cx="578.4" cy="484.6"/><circle r="5" cx="578.4" cy="486.8"/><circle r="5" cx="578.4" cy="490.5"/><circle r="5" cx="582.8" cy="452.5"/><circle r="5" cx="582.8" cy="455.4"/><circle r="5" cx="582.8" cy="458.4"/><circle r="5" cx="582.8" cy="461.4"/><circle r="5" cx="582.8" cy="462.4"/><circle r="5" cx="582.8" cy="466.1"/><circle r="5" cx="582.8" cy="468.3"/><circle r="5" cx="582.8" cy="471.3"/><circle r="5" cx="582.8" cy="474.4"/><circle r="5" cx="582.8" cy="476.2"/><circle r="5" cx="582.8" cy="480.2"/><circle r="5" cx="582.8" cy="483.1"/><circle r="5" cx="582.8" cy="484.8"/><circle r="5" cx="582.8" cy="488.5"/><circle r="5" cx="582.8" cy="490.3"/><circle r="5" cx="580.4" cy="497.5"/><circle r="5" cx="580.4" cy="500.2"/><circle r="5" cx="580.4" cy="505.6"/><circle r="5" cx="580.4" cy="510.5"/><circle r="5" cx="612.6" cy="448.9"/><circle r="5" cx="612.6" cy="449.4"/><circle r="5" cx="612.6" cy="452.0"/><circle r="5" cx="612.6" cy="452.6"/><circle r="5" cx="612.6" cy="454.5"/><circle r="5" cx="612.6" cy="455.8"/><circle r="5" cx="612.6" cy="457.2"/><circle r="5" cx="612.6" cy="458.1"/><circle r="5" cx="612.6" cy="460.7"/><circle r="5" cx="612.6" cy="462.1"/><circle r="5" cx="612.6" cy="463.4"/><circle r="5" cx="612.6" cy="465.0"/><circle r="5" cx="612.6" cy="466.0"/><circle r="5" cx="612.6" cy="477.4"/><circle r="5" cx="612.6" cy="479.9"/><circle r="5" cx="612.6" cy="482.8"/><circle r="5" cx="612.6" cy="485.4"/><circle r="5" cx="612.6" cy="488.1"/><circle r="5" cx="608.6" cy="410.5"/><circle r="5" cx="608.6" cy="412.9"/><circle r="5" cx="608.6" cy="417.5"/><circle r="5" cx="614.6" cy="398.5"/><circle r="5" cx="614.6" cy="401.6"/><circle r="5" cx="614.6" cy="403.6"/><circle r="5" cx="614.6" cy="407.0"/><circle r="5" cx="464.6" cy="523.5"/><circle r="5" cx="464.6" cy="527.1"/><circle r="5" cx="464.6" cy="535.8"/><circle r="5" cx="464.6" cy="540.1"/><circle r="5" cx="464.6" cy="543.9"/><circle r="5" cx="464.6" cy="550.4"/><circle r="5" cx="464.6" cy="556.5"/><circle r="5" cx="464.6" cy="560.6"/><circle r="5" cx="464.6" cy="565.6"/><circle r="5" cx="464.6" cy="571.7"/><circle r="5" cx="464.6" cy="575.6"/><circle r="5" cx="464.6" cy="584.7"/><circle r="5" cx="464.6" cy="588.5"/><circle r="5" cx="469.6" cy="402.0"/><circle r="5" cx="469.6" cy="418.0"/><circle r="5" cx="469.6" cy="422.0"/><circle r="5" cx="469.6" cy="426.0"/><circle r="5" cx="450.5" cy="579.5"/><circle r="5" cx="450.5" cy="582.4"/><circle r="5" cx="450.5" cy="585.5"/><circle r="5" cx="521.0" cy="570.8"/><circle r="5" cx="521.0" cy="572.3"/><circle r="5" cx="521.0" cy="577.8"/><circle r="5" cx="521.0" cy="580.9"/><circle r="5" cx="521.0" cy="586.5"/><circle r="5" cx="498.8" cy="406.0"/><circle r="5" cx="498.8" cy="427.0"/><circle r="5" cx="479.7" cy="501.7"/><circle r="5" cx="490.0" cy="464.5"/><circle r="5" cx="494.0" cy="463.0"/><circle r="5" cx="499.0" cy="464.5"/><circle r="5" cx="631.8" cy="425.8"/><circle r="5" cx="641.8" cy="466.5"/><circle r="5" cx="637.8" cy="481.6"/><circle r="5" cx="631.8" cy="477.5"/><circle r="5" cx="680.7" cy="476.0"/><circle r="5" cx="675.0" cy="405.6"/><circle r="5" cx="642.0" cy="406.0"/><circle r="5" cx="645.0" cy="410.0"/><circle r="5" cx="648.0" cy="408.0"/><circle r="5" cx="646.0" cy="414.0"/><circle r="5" cx="599.5" cy="439.0"/><circle r="5" cx="593.5" cy="482.6"/><circle r="5" cx="593.5" cy="483.0"/><circle r="5" cx="542.0" cy="509.8"/><circle r="5" cx="542.0" cy="510.2"/><circle r="5" cx="557.0" cy="531.0"/><circle r="5" cx="550.0" cy="537.0"/><circle r="5" cx="555.0" cy="549.0"/><circle r="5" cx="546.0" cy="551.0"/><circle r="5" cx="513.0" cy="544.0"/><circle r="5" cx="513.0" cy="561.0"/><circle r="5" cx="473.7" cy="545.0"/><circle r="5" cx="457.5" cy="525.0"/><circle r="5" cx="402.0" cy="572.0"/><circle r="5" cx="411.0" cy="579.0"/><circle r="5" cx="584.2" cy="232.8"/><circle r="5" cx="584.2" cy="233.9"/><circle r="5" cx="584.2" cy="236.6"/><circle r="5" cx="584.2" cy="238.4"/><circle r="5" cx="584.2" cy="239.5"/><circle r="5" cx="584.2" cy="244.8"/><circle r="5" cx="584.2" cy="246.3"/><circle r="5" cx="584.2" cy="250.1"/><circle r="5" cx="584.2" cy="254.1"/><circle r="5" cx="584.2" cy="256.6"/><circle r="5" cx="584.2" cy="259.3"/><circle r="5" cx="584.2" cy="261.2"/><circle r="5" cx="584.2" cy="265.7"/><circle r="5" cx="584.2" cy="267.5"/><circle r="5" cx="584.2" cy="272.5"/><circle r="5" cx="584.2" cy="274.2"/><circle r="5" cx="584.2" cy="275.8"/><circle r="5" cx="584.2" cy="278.1"/><circle r="5" cx="584.2" cy="279.3"/><circle r="5" cx="584.2" cy="281.4"/><circle r="5" cx="584.2" cy="283.8"/><circle r="5" cx="584.2" cy="284.7"/><circle r="5" cx="584.2" cy="286.2"/><circle r="5" cx="584.2" cy="288.3"/><circle r="5" cx="584.2" cy="290.4"/><circle r="5" cx="584.2" cy="291.6"/><circle r="5" cx="584.2" cy="305.5"/><circle r="5" cx="584.2" cy="310.6"/><circle r="5" cx="584.2" cy="312.8"/><circle r="5" cx="584.2" cy="331.0"/><circle r="5" cx="586.0" cy="337.0"/><circle r="5" cx="612.8" cy="234.5"/><circle r="5" cx="612.8" cy="238.7"/><circle r="5" cx="612.8" cy="245.9"/><circle r="5" cx="612.8" cy="262.0"/><circle r="5" cx="612.8" cy="274.5"/><circle r="5" cx="612.8" cy="286.5"/><circle r="5" cx="608.0" cy="275.0"/><circle r="5" cx="628.9" cy="248.5"/><circle r="5" cx="628.9" cy="252.3"/><circle r="5" cx="628.9" cy="256.8"/><circle r="5" cx="628.9" cy="260.2"/><circle r="5" cx="628.9" cy="267.8"/><circle r="5" cx="628.9" cy="269.0"/><circle r="5" cx="628.9" cy="276.6"/><circle r="5" cx="628.9" cy="277.9"/><circle r="5" cx="628.9" cy="283.5"/><circle r="5" cx="628.9" cy="288.1"/><circle r="5" cx="628.9" cy="297.6"/><circle r="5" cx="628.9" cy="298.7"/><circle r="5" cx="628.9" cy="300.3"/><circle r="5" cx="628.9" cy="301.3"/><circle r="5" cx="628.9" cy="302.5"/><circle r="5" cx="628.9" cy="305.0"/><circle r="5" cx="628.9" cy="305.7"/><circle r="5" cx="628.9" cy="308.0"/><circle r="5" cx="628.9" cy="308.7"/><circle r="5" cx="628.9" cy="311.0"/><circle r="5" cx="628.9" cy="311.9"/><circle r="5" cx="628.9" cy="314.0"/><circle r="5" cx="628.9" cy="314.9"/><circle r="5" cx="628.9" cy="316.4"/><circle r="5" cx="628.9" cy="317.7"/><circle r="5" cx="628.9" cy="319.6"/><circle r="5" cx="628.9" cy="321.4"/><circle r="5" cx="628.9" cy="323.0"/><circle r="5" cx="628.9" cy="324.0"/><circle r="5" cx="628.9" cy="325.1"/><circle r="5" cx="628.9" cy="327.1"/><circle r="5" cx="628.9" cy="328.8"/><circle r="5" cx="628.9" cy="330.0"/><circle r="5" cx="628.9" cy="331.0"/><circle r="5" cx="628.9" cy="332.9"/><circle r="5" cx="628.9" cy="334.8"/><circle r="5" cx="628.9" cy="336.4"/><circle r="5" cx="628.9" cy="337.9"/><circle r="5" cx="628.9" cy="338.7"/><circle r="5" cx="628.9" cy="340.5"/><circle r="5" cx="646.0" cy="305.1"/><circle r="5" cx="646.0" cy="306.8"/><circle r="5" cx="646.0" cy="308.6"/><circle r="5" cx="646.0" cy="309.4"/><circle r="5" cx="646.0" cy="311.2"/><circle r="5" cx="646.0" cy="312.3"/><circle r="5" cx="646.0" cy="313.9"/><circle r="5" cx="646.0" cy="316.2"/><circle r="5" cx="646.0" cy="317.6"/><circle r="5" cx="646.0" cy="319.2"/><circle r="5" cx="646.0" cy="320.6"/><circle r="5" cx="646.0" cy="321.9"/><circle r="5" cx="646.0" cy="323.0"/><circle r="5" cx="646.0" cy="325.3"/><circle r="5" cx="646.0" cy="326.4"/><circle r="5" cx="646.0" cy="327.6"/><circle r="5" cx="646.0" cy="328.7"/><circle r="5" cx="646.0" cy="331.0"/><circle r="5" cx="646.0" cy="331.8"/><circle r="5" cx="646.0" cy="333.6"/><circle r="5" cx="646.0" cy="335.2"/><circle r="5" cx="646.0" cy="336.9"/><circle r="5" cx="646.0" cy="337.8"/><circle r="5" cx="646.0" cy="340.3"/><circle r="5" cx="646.0" cy="340.9"/><circle r="5" cx="646.0" cy="342.5"/><circle r="5" cx="646.0" cy="344.4"/><circle r="5" cx="646.0" cy="345.8"/><circle r="5" cx="646.0" cy="347.0"/><circle r="5" cx="646.0" cy="348.4"/><circle r="5" cx="646.0" cy="350.5"/><circle r="5" cx="646.0" cy="351.8"/><circle r="5" cx="646.0" cy="353.3"/><circle r="5" cx="646.0" cy="355.0"/><circle r="5" cx="646.0" cy="356.7"/><circle r="5" cx="646.0" cy="358.5"/><circle r="5" cx="646.0" cy="359.0"/><circle r="5" cx="646.0" cy="360.8"/><circle r="5" cx="646.0" cy="363.0"/><circle r="5" cx="646.0" cy="364.3"/><circle r="5" cx="646.0" cy="365.8"/><circle r="5" cx="646.0" cy="366.7"/><circle r="5" cx="646.0" cy="367.9"/><circle r="5" cx="646.0" cy="373.5"/><circle r="5" cx="646.0" cy="376.7"/><circle r="5" cx="646.0" cy="379.8"/><circle r="5" cx="646.0" cy="382.5"/><circle r="5" cx="646.0" cy="385.3"/><circle r="5" cx="646.0" cy="386.4"/><circle r="5" cx="646.0" cy="389.4"/><circle r="5" cx="646.0" cy="392.5"/><circle r="5" cx="682.3" cy="287.0"/><circle r="5" cx="682.3" cy="288.8"/><circle r="5" cx="682.3" cy="290.2"/><circle r="5" cx="682.3" cy="291.6"/><circle r="5" cx="682.3" cy="293.0"/><circle r="5" cx="682.3" cy="293.9"/><circle r="5" cx="682.3" cy="296.1"/><circle r="5" cx="682.3" cy="297.0"/><circle r="5" cx="682.3" cy="299.2"/><circle r="5" cx="682.3" cy="299.8"/><circle r="5" cx="682.3" cy="301.3"/><circle r="5" cx="682.3" cy="302.9"/><circle r="5" cx="682.3" cy="304.5"/><circle r="5" cx="682.3" cy="306.1"/><circle r="5" cx="682.3" cy="326.1"/><circle r="5" cx="682.3" cy="328.5"/><circle r="5" cx="682.3" cy="331.9"/><circle r="5" cx="682.3" cy="333.3"/><circle r="5" cx="682.3" cy="336.5"/><circle r="5" cx="682.3" cy="340.0"/><circle r="5" cx="682.3" cy="341.4"/><circle r="5" cx="682.3" cy="345.3"/><circle r="5" cx="682.3" cy="347.6"/><circle r="5" cx="682.3" cy="351.3"/><circle r="5" cx="682.3" cy="354.1"/><circle r="5" cx="682.3" cy="355.1"/><circle r="5" cx="682.3" cy="358.3"/><circle r="5" cx="682.3" cy="361.9"/><circle r="5" cx="682.3" cy="363.8"/><circle r="5" cx="682.3" cy="367.2"/><circle r="5" cx="682.3" cy="369.8"/><circle r="5" cx="682.3" cy="371.8"/><circle r="5" cx="682.3" cy="375.3"/><circle r="5" cx="682.3" cy="378.4"/><circle r="5" cx="710.5" cy="268.9"/><circle r="5" cx="710.5" cy="270.6"/><circle r="5" cx="710.5" cy="271.6"/><circle r="5" cx="710.5" cy="273.0"/><circle r="5" cx="710.5" cy="274.8"/><circle r="5" cx="710.5" cy="276.8"/><circle r="5" cx="710.5" cy="277.8"/><circle r="5" cx="710.5" cy="279.6"/><circle r="5" cx="710.5" cy="280.8"/><circle r="5" cx="710.5" cy="282.0"/><circle r="5" cx="710.5" cy="284.0"/><circle r="5" cx="710.5" cy="285.6"/><circle r="5" cx="710.5" cy="286.3"/><circle r="5" cx="710.5" cy="288.3"/><circle r="5" cx="710.5" cy="289.7"/><circle r="5" cx="710.5" cy="291.0"/><circle r="5" cx="710.5" cy="291.9"/><circle r="5" cx="710.5" cy="293.7"/><circle r="5" cx="710.5" cy="295.4"/><circle r="5" cx="710.5" cy="296.5"/><circle r="5" cx="710.5" cy="298.1"/><circle r="5" cx="710.5" cy="299.2"/><circle r="5" cx="710.5" cy="301.2"/><circle r="5" cx="710.5" cy="302.8"/><circle r="5" cx="710.5" cy="303.8"/><circle r="5" cx="710.5" cy="313.2"/><circle r="5" cx="710.5" cy="319.3"/><circle r="5" cx="710.5" cy="325.3"/><circle r="5" cx="710.5" cy="330.4"/><circle r="5" cx="710.5" cy="332.1"/><circle r="5" cx="710.5" cy="339.3"/><circle r="5" cx="710.5" cy="343.6"/><circle r="5" cx="710.5" cy="349.0"/><circle r="5" cx="710.5" cy="352.7"/><circle r="5" cx="706.4" cy="233.4"/><circle r="5" cx="706.4" cy="234.7"/><circle r="5" cx="706.4" cy="237.3"/><circle r="5" cx="706.4" cy="241.2"/><circle r="5" cx="706.4" cy="243.3"/><circle r="5" cx="726.6" cy="236.7"/><circle r="5" cx="726.6" cy="239.6"/><circle r="5" cx="726.6" cy="242.6"/><circle r="5" cx="726.6" cy="245.1"/><circle r="5" cx="726.6" cy="248.4"/><circle r="5" cx="726.6" cy="250.1"/><circle r="5" cx="726.6" cy="252.6"/><circle r="5" cx="726.6" cy="256.9"/><circle r="5" cx="726.6" cy="259.8"/><circle r="5" cx="726.6" cy="261.3"/><circle r="5" cx="726.6" cy="264.8"/><circle r="5" cx="726.6" cy="267.7"/><circle r="5" cx="726.6" cy="269.1"/><circle r="5" cx="726.6" cy="271.9"/><circle r="5" cx="726.6" cy="275.3"/><circle r="5" cx="726.6" cy="278.7"/><circle r="5" cx="726.6" cy="281.2"/><circle r="5" cx="726.6" cy="285.1"/><circle r="5" cx="726.6" cy="288.0"/><circle r="5" cx="726.6" cy="290.0"/><circle r="5" cx="726.6" cy="292.1"/><circle r="5" cx="726.6" cy="294.5"/><circle r="5" cx="726.6" cy="298.1"/><circle r="5" cx="737.0" cy="230.9"/><circle r="5" cx="737.0" cy="232.2"/><circle r="5" cx="737.0" cy="233.8"/><circle r="5" cx="737.0" cy="235.5"/><circle r="5" cx="737.0" cy="237.2"/><circle r="5" cx="737.0" cy="238.8"/><circle r="5" cx="737.0" cy="240.5"/><circle r="5" cx="737.0" cy="242.1"/><circle r="5" cx="737.0" cy="243.3"/><circle r="5" cx="737.0" cy="245.0"/><circle r="5" cx="737.0" cy="246.1"/><circle r="5" cx="737.0" cy="248.2"/><circle r="5" cx="737.0" cy="250.2"/><circle r="5" cx="737.0" cy="252.1"/><circle r="5" cx="737.0" cy="253.4"/><circle r="5" cx="737.0" cy="254.0"/><circle r="5" cx="737.0" cy="255.7"/><circle r="5" cx="737.0" cy="257.9"/><circle r="5" cx="737.0" cy="260.0"/><circle r="5" cx="737.0" cy="260.6"/><circle r="5" cx="737.0" cy="263.0"/><circle r="5" cx="737.0" cy="263.9"/><circle r="5" cx="737.0" cy="266.3"/><circle r="5" cx="737.0" cy="268.1"/><circle r="5" cx="737.0" cy="269.3"/><circle r="5" cx="737.0" cy="271.1"/><circle r="5" cx="737.0" cy="272.1"/><circle r="5" cx="737.0" cy="273.4"/><circle r="5" cx="737.0" cy="275.0"/><circle r="5" cx="737.0" cy="277.0"/><circle r="5" cx="737.0" cy="278.2"/><circle r="5" cx="737.0" cy="280.3"/><circle r="5" cx="737.0" cy="282.0"/><circle r="5" cx="742.0" cy="230.5"/><circle r="5" cx="742.0" cy="231.8"/><circle r="5" cx="742.0" cy="233.4"/><circle r="5" cx="742.0" cy="235.7"/><circle r="5" cx="742.0" cy="236.7"/><circle r="5" cx="742.0" cy="238.2"/><circle r="5" cx="742.0" cy="239.7"/><circle r="5" cx="742.0" cy="242.2"/><circle r="5" cx="742.0" cy="243.7"/><circle r="5" cx="742.0" cy="244.7"/><circle r="5" cx="742.0" cy="246.6"/><circle r="5" cx="742.0" cy="247.8"/><circle r="5" cx="742.0" cy="249.9"/><circle r="5" cx="742.0" cy="251.5"/><circle r="5" cx="742.0" cy="252.7"/><circle r="5" cx="742.0" cy="254.5"/><circle r="5" cx="742.0" cy="256.7"/><circle r="5" cx="742.0" cy="258.3"/><circle r="5" cx="742.0" cy="259.2"/><circle r="5" cx="742.0" cy="260.6"/><circle r="5" cx="742.0" cy="262.1"/><circle r="5" cx="742.0" cy="263.8"/><circle r="5" cx="742.0" cy="265.4"/><circle r="5" cx="742.0" cy="267.8"/><circle r="5" cx="742.0" cy="268.9"/><circle r="5" cx="742.0" cy="271.0"/><circle r="5" cx="742.0" cy="273.0"/><circle r="5" cx="742.0" cy="273.6"/><circle r="5" cx="742.0" cy="275.8"/><circle r="5" cx="742.0" cy="277.2"/><circle r="5" cx="742.0" cy="278.7"/><circle r="5" cx="742.0" cy="279.8"/><circle r="5" cx="742.0" cy="281.8"/><circle r="5" cx="758.8" cy="232.5"/><circle r="5" cx="758.8" cy="234.4"/><circle r="5" cx="758.8" cy="237.3"/><circle r="5" cx="758.8" cy="240.0"/><circle r="5" cx="758.8" cy="243.5"/><circle r="5" cx="769.9" cy="232.5"/><circle r="5" cx="769.9" cy="237.2"/><circle r="5" cx="769.9" cy="238.7"/><circle r="5" cx="697.4" cy="272.4"/><circle r="5" cx="697.4" cy="275.0"/><circle r="5" cx="697.4" cy="280.0"/><circle r="5" cx="697.4" cy="284.2"/><circle r="5" cx="697.4" cy="290.7"/><circle r="5" cx="697.4" cy="295.5"/><circle r="5" cx="527.2" cy="389.7"/><circle r="5" cx="527.2" cy="391.1"/><circle r="5" cx="527.2" cy="392.8"/><circle r="5" cx="527.2" cy="394.6"/><circle r="5" cx="527.2" cy="395.6"/><circle r="5" cx="527.2" cy="397.2"/><circle r="5" cx="527.2" cy="398.7"/><circle r="5" cx="527.2" cy="400.3"/><circle r="5" cx="527.2" cy="402.6"/><circle r="5" cx="527.2" cy="403.6"/><circle r="5" cx="527.2" cy="404.8"/><circle r="5" cx="527.2" cy="406.5"/><circle r="5" cx="527.2" cy="407.8"/><circle r="5" cx="527.2" cy="410.1"/><circle r="5" cx="527.2" cy="411.8"/><circle r="5" cx="527.2" cy="413.1"/><circle r="5" cx="527.2" cy="414.6"/><circle r="5" cx="527.2" cy="415.7"/><circle r="5" cx="527.2" cy="416.9"/><circle r="5" cx="564.5" cy="362.3"/><circle r="5" cx="564.5" cy="364.6"/><circle r="5" cx="564.5" cy="366.6"/><circle r="5" cx="564.5" cy="370.7"/><circle r="5" cx="564.5" cy="373.5"/><circle r="5" cx="564.5" cy="375.9"/><circle r="5" cx="564.5" cy="379.2"/><circle r="5" cx="564.5" cy="381.9"/><circle r="5" cx="564.5" cy="383.9"/><circle r="5" cx="564.5" cy="386.8"/><circle r="5" cx="564.5" cy="390.2"/><circle r="5" cx="564.5" cy="393.2"/><circle r="5" cx="564.5" cy="395.4"/><circle r="5" cx="564.5" cy="399.9"/><circle r="5" cx="564.5" cy="401.8"/><circle r="5" cx="564.5" cy="405.3"/><circle r="5" cx="564.5" cy="406.7"/><circle r="5" cx="584.6" cy="367.5"/><circle r="5" cx="584.6" cy="371.1"/><circle r="5" cx="584.6" cy="374.1"/><circle r="5" cx="584.6" cy="375.8"/><circle r="5" cx="584.6" cy="379.7"/><circle r="5" cx="584.6" cy="381.0"/><circle r="5" cx="584.6" cy="383.7"/><circle r="5" cx="584.6" cy="388.2"/><circle r="5" cx="584.6" cy="390.2"/><circle r="5" cx="584.6" cy="393.0"/><circle r="5" cx="584.6" cy="396.5"/><circle r="5" cx="584.6" cy="398.9"/><circle r="5" cx="584.6" cy="402.4"/><circle r="5" cx="584.6" cy="405.1"/><circle r="5" cx="584.6" cy="407.5"/><circle r="5" cx="598.7" cy="373.5"/><circle r="5" cx="598.7" cy="378.6"/><circle r="5" cx="598.7" cy="383.5"/><circle r="5" cx="598.7" cy="388.5"/><circle r="5" cx="598.7" cy="397.2"/><circle r="5" cx="598.7" cy="401.0"/><circle r="5" cx="598.7" cy="407.5"/><circle r="5" cx="615.8" cy="317.8"/><circle r="5" cx="615.8" cy="321.2"/><circle r="5" cx="615.8" cy="328.9"/><circle r="5" cx="615.8" cy="332.3"/><circle r="5" cx="615.8" cy="337.8"/><circle r="5" cx="615.8" cy="344.2"/><circle r="5" cx="615.8" cy="348.1"/><circle r="5" cx="615.8" cy="361.9"/><circle r="5" cx="615.8" cy="362.9"/><circle r="5" cx="615.8" cy="365.2"/><circle r="5" cx="615.8" cy="366.9"/><circle r="5" cx="615.8" cy="367.7"/><circle r="5" cx="615.8" cy="369.2"/><circle r="5" cx="615.8" cy="371.4"/><circle r="5" cx="615.8" cy="372.7"/><circle r="5" cx="615.8" cy="374.7"/><circle r="5" cx="615.8" cy="375.2"/><circle r="5" cx="615.8" cy="377.3"/><circle r="5" cx="615.8" cy="379.4"/><circle r="5" cx="615.8" cy="380.5"/><circle r="5" cx="615.8" cy="382.1"/><circle r="5" cx="615.8" cy="383.8"/><circle r="5" cx="615.8" cy="385.5"/><circle r="5" cx="615.8" cy="386.8"/><circle r="5" cx="615.8" cy="388.5"/><circle r="5" cx="661.0" cy="306.3"/><circle r="5" cx="661.0" cy="309.1"/><circle r="5" cx="661.0" cy="314.6"/><circle r="5" cx="661.0" cy="320.4"/><circle r="5" cx="661.0" cy="329.1"/><circle r="5" cx="661.0" cy="331.6"/><circle r="5" cx="661.0" cy="340.3"/><circle r="5" cx="661.0" cy="343.0"/><circle r="5" cx="661.0" cy="350.4"/><circle r="5" cx="661.0" cy="356.5"/><circle r="5" cx="675.0" cy="302.7"/><circle r="5" cx="675.0" cy="305.7"/><circle r="5" cx="675.0" cy="309.6"/><circle r="5" cx="675.0" cy="316.0"/><circle r="5" cx="675.0" cy="321.4"/><circle r="5" cx="675.0" cy="328.9"/><circle r="5" cx="675.0" cy="332.7"/><circle r="5" cx="675.0" cy="336.1"/><circle r="5" cx="675.0" cy="344.8"/><circle r="5" cx="675.0" cy="348.5"/><circle r="5" cx="679.3" cy="353.5"/><circle r="5" cx="679.3" cy="356.4"/><circle r="5" cx="679.3" cy="359.0"/><circle r="5" cx="679.3" cy="362.0"/><circle r="5" cx="679.3" cy="365.3"/><circle r="5" cx="679.3" cy="368.3"/><circle r="5" cx="679.3" cy="369.2"/><circle r="5" cx="679.3" cy="373.0"/><circle r="5" cx="679.3" cy="375.9"/><circle r="5" cx="679.3" cy="378.0"/><circle r="5" cx="643.0" cy="379.5"/><circle r="5" cx="643.0" cy="384.9"/><circle r="5" cx="643.0" cy="388.0"/><circle r="5" cx="643.0" cy="392.3"/><circle r="5" cx="561.0" cy="236.2"/><circle r="5" cx="561.0" cy="236.8"/><circle r="5" cx="577.5" cy="236.0"/><circle r="5" cx="599.7" cy="238.0"/><circle r="5" cx="608.8" cy="252.0"/><circle r="5" cx="599.7" cy="285.5"/><circle r="5" cx="612.8" cy="286.5"/><circle r="5" cx="723.6" cy="214.0"/><circle r="5" cx="724.5" cy="215.0"/><circle r="5" cx="793.0" cy="231.0"/><circle r="5" cx="788.0" cy="240.0"/><circle r="5" cx="816.0" cy="233.0"/><circle r="5" cx="740.7" cy="323.8"/><circle r="5" cx="726.6" cy="328.8"/><circle r="5" cx="709.5" cy="379.0"/><circle r="5" cx="698.4" cy="372.0"/><circle r="5" cx="698.4" cy="381.0"/><circle r="5" cx="675.0" cy="404.0"/><circle r="5" cx="661.0" cy="381.0"/><circle r="5" cx="549.3" cy="393.0"/><circle r="5" cx="592.9" cy="381.5"/><circle r="5" cx="609.7" cy="382.2"/><circle r="5" cx="589.7" cy="385.4"/><circle r="5" cx="614.2" cy="396.8"/><circle r="5" cx="605.1" cy="394.9"/><circle r="5" cx="595.5" cy="400.2"/><circle r="5" cx="567.1" cy="386.3"/><circle r="5" cx="607.9" cy="384.4"/><circle r="5" cx="613.8" cy="386.2"/><circle r="5" cx="552.6" cy="382.9"/><circle r="5" cx="603.8" cy="408.5"/><circle r="5" cx="576.1" cy="399.8"/><circle r="5" cx="564.3" cy="407.2"/><circle r="5" cx="596.4" cy="384.6"/><circle r="5" cx="549.2" cy="400.9"/><circle r="5" cx="548.1" cy="405.1"/><circle r="5" cx="567.0" cy="387.0"/><circle r="5" cx="588.7" cy="389.6"/><circle r="5" cx="587.0" cy="384.6"/><circle r="5" cx="613.4" cy="389.7"/><circle r="5" cx="608.1" cy="384.6"/><circle r="5" cx="605.0" cy="409.4"/><circle r="5" cx="574.4" cy="381.0"/><circle r="5" cx="573.5" cy="399.2"/><circle r="5" cx="561.8" cy="396.4"/><circle r="5" cx="552.0" cy="393.9"/><circle r="5" cx="599.6" cy="392.9"/><circle r="5" cx="595.9" cy="383.4"/><circle r="5" cx="607.1" cy="383.7"/><circle r="5" cx="614.2" cy="409.9"/><circle r="5" cx="615.5" cy="395.8"/><circle r="5" cx="566.8" cy="390.4"/><circle r="5" cx="601.3" cy="394.9"/><circle r="5" cx="614.7" cy="382.8"/><circle r="5" cx="638.8" cy="391.8"/><circle r="5" cx="647.8" cy="372.4"/><circle r="5" cx="607.1" cy="348.4"/><circle r="5" cx="621.7" cy="393.6"/><circle r="5" cx="667.6" cy="353.6"/><circle r="5" cx="674.0" cy="341.9"/><circle r="5" cx="647.9" cy="398.0"/><circle r="5" cx="627.5" cy="396.7"/><circle r="5" cx="652.5" cy="343.0"/><circle r="5" cx="626.7" cy="367.0"/><circle r="5" cx="619.8" cy="384.5"/><circle r="5" cx="614.3" cy="387.3"/><circle r="5" cx="623.9" cy="344.2"/><circle r="5" cx="644.7" cy="345.7"/><circle r="5" cx="644.1" cy="387.3"/><circle r="5" cx="647.6" cy="367.7"/><circle r="5" cx="602.7" cy="370.8"/><circle r="5" cx="607.8" cy="378.8"/><circle r="5" cx="610.6" cy="374.7"/><circle r="5" cx="628.2" cy="362.5"/><circle r="5" cx="653.1" cy="349.8"/><circle r="5" cx="613.6" cy="396.5"/><circle r="5" cx="626.5" cy="390.5"/><circle r="5" cx="669.9" cy="368.8"/><circle r="5" cx="611.9" cy="345.6"/><circle r="5" cx="670.3" cy="347.0"/><circle r="5" cx="639.7" cy="372.2"/><circle r="5" cx="609.4" cy="368.1"/><circle r="5" cx="613.1" cy="372.1"/><circle r="5" cx="640.5" cy="362.0"/><circle r="5" cx="615.8" cy="364.2"/><circle r="5" cx="616.3" cy="347.6"/><circle r="5" cx="619.2" cy="392.3"/><circle r="5" cx="640.1" cy="393.4"/><circle r="5" cx="601.2" cy="396.6"/><circle r="5" cx="639.1" cy="387.5"/><circle r="5" cx="645.6" cy="381.3"/><circle r="5" cx="618.3" cy="385.0"/><circle r="5" cx="612.3" cy="355.9"/><circle r="5" cx="602.5" cy="363.6"/><circle r="5" cx="743.4" cy="299.7"/><circle r="5" cx="738.4" cy="296.3"/><circle r="5" cx="746.4" cy="299.1"/><circle r="5" cx="733.1" cy="294.8"/><circle r="5" cx="733.3" cy="289.5"/><circle r="5" cx="746.0" cy="293.9"/><circle r="5" cx="742.7" cy="294.4"/><circle r="5" cx="738.4" cy="291.0"/><circle r="5" cx="738.7" cy="299.8"/><circle r="5" cx="742.9" cy="292.1"/><circle r="5" cx="734.4" cy="291.8"/><circle r="5" cx="744.2" cy="294.2"/><circle r="5" cx="760.4" cy="255.4"/><circle r="5" cx="769.3" cy="262.0"/><circle r="5" cx="771.5" cy="271.0"/><circle r="5" cx="756.5" cy="270.4"/><circle r="5" cx="751.0" cy="269.3"/><circle r="5" cx="756.5" cy="280.4"/><circle r="5" cx="749.9" cy="283.7"/><circle r="5" cx="720.5" cy="272.6"/><circle r="5" cx="740.4" cy="323.0"/><circle r="5" cx="706.6" cy="319.0"/><circle r="5" cx="735.5" cy="311.0"/><circle r="5" cx="735.5" cy="315.0"/><circle r="5" cx="793.5" cy="70.8"/><circle r="5" cx="793.5" cy="75.2"/><circle r="5" cx="793.5" cy="81.5"/><circle r="5" cx="793.5" cy="86.5"/><circle r="5" cx="793.5" cy="88.7"/><circle r="5" cx="793.5" cy="90.7"/><circle r="5" cx="793.5" cy="92.3"/><circle r="5" cx="793.5" cy="94.0"/><circle r="5" cx="793.5" cy="95.0"/><circle r="5" cx="793.5" cy="97.7"/><circle r="5" cx="793.5" cy="98.9"/><circle r="5" cx="793.5" cy="101.2"/><circle r="5" cx="793.5" cy="102.5"/><circle r="5" cx="793.5" cy="104.3"/><circle r="5" cx="793.5" cy="106.7"/><circle r="5" cx="793.5" cy="108.7"/><circle r="5" cx="793.5" cy="110.1"/><circle r="5" cx="793.5" cy="124.7"/><circle r="5" cx="793.5" cy="125.2"/><circle r="5" cx="809.2" cy="83.7"/><circle r="5" cx="809.2" cy="84.6"/><circle r="5" cx="809.2" cy="87.7"/><circle r="5" cx="809.2" cy="90.3"/><circle r="5" cx="809.2" cy="94.2"/><circle r="5" cx="809.2" cy="95.9"/><circle r="5" cx="809.2" cy="98.8"/><circle r="5" cx="809.2" cy="102.8"/><circle r="5" cx="809.2" cy="104.9"/><circle r="5" cx="809.2" cy="107.5"/><circle r="5" cx="811.2" cy="121.2"/><circle r="5" cx="811.2" cy="124.7"/><circle r="5" cx="811.2" cy="125.8"/><circle r="5" cx="811.2" cy="128.6"/><circle r="5" cx="811.2" cy="132.3"/><circle r="5" cx="811.2" cy="135.5"/><circle r="5" cx="811.2" cy="138.2"/><circle r="5" cx="811.2" cy="140.9"/><circle r="5" cx="811.2" cy="143.0"/><circle r="5" cx="811.2" cy="147.6"/><circle r="5" cx="811.2" cy="150.3"/><circle r="5" cx="811.2" cy="153.2"/><circle r="5" cx="811.2" cy="154.8"/><circle r="5" cx="811.2" cy="157.6"/><circle r="5" cx="811.2" cy="160.5"/><circle r="5" cx="822.9" cy="90.9"/><circle r="5" cx="822.9" cy="92.3"/><circle r="5" cx="822.9" cy="93.6"/><circle r="5" cx="822.9" cy="95.6"/><circle r="5" cx="822.9" cy="96.8"/><circle r="5" cx="822.9" cy="98.3"/><circle r="5" cx="822.9" cy="100.4"/><circle r="5" cx="822.9" cy="102.4"/><circle r="5" cx="822.9" cy="104.0"/><circle r="5" cx="822.9" cy="105.3"/><circle r="5" cx="822.9" cy="106.0"/><circle r="5" cx="822.9" cy="107.5"/><circle r="5" cx="826.9" cy="146.5"/><circle r="5" cx="826.9" cy="150.7"/><circle r="5" cx="826.9" cy="156.7"/><circle r="5" cx="784.0" cy="92.5"/><circle r="5" cx="785.0" cy="106.6"/><circle r="5" cx="783.0" cy="124.7"/><circle r="5" cx="783.0" cy="145.9"/><circle r="5" cx="798.0" cy="150.5"/><circle r="5" cx="798.0" cy="169.0"/><circle r="5" cx="748.8" cy="157.0"/><circle r="5" cx="748.8" cy="172.0"/><circle r="5" cx="748.8" cy="187.0"/><circle r="5" cx="740.7" cy="186.0"/><circle r="5" cx="769.0" cy="185.0"/><circle r="5" cx="769.0" cy="185.5"/><circle r="5" cx="769.0" cy="195.0"/><circle r="5" cx="769.0" cy="215.0"/><circle r="5" cx="723.6" cy="214.3"/><circle r="5" cx="725.5" cy="215.0"/><circle r="5" cx="833.4" cy="108.6"/><circle r="5" cx="838.4" cy="96.5"/><circle r="5" cx="843.4" cy="99.5"/><circle r="5" cx="841.4" cy="125.7"/><circle r="5" cx="843.5" cy="126.0"/><circle r="5" cx="827.3" cy="181.0"/><circle r="5" cx="816.2" cy="181.0"/><circle r="5" cx="856.5" cy="186.0"/><circle r="5" cx="879.7" cy="184.0"/><circle r="5" cx="879.7" cy="184.4"/><circle r="5" cx="912.9" cy="183.0"/><circle r="5" cx="856.9" cy="66.3"/><circle r="5" cx="856.9" cy="67.2"/><circle r="5" cx="856.9" cy="78.0"/><circle r="5" cx="856.9" cy="80.0"/><circle r="5" cx="856.9" cy="80.8"/><circle r="5" cx="856.9" cy="82.5"/><circle r="5" cx="856.9" cy="84.5"/><circle r="5" cx="856.9" cy="86.8"/><circle r="5" cx="856.9" cy="87.8"/><circle r="5" cx="856.9" cy="89.0"/><circle r="5" cx="856.9" cy="91.2"/><circle r="5" cx="856.9" cy="92.4"/><circle r="5" cx="856.9" cy="93.8"/><circle r="5" cx="856.9" cy="96.3"/><circle r="5" cx="856.9" cy="98.3"/><circle r="5" cx="856.9" cy="99.7"/><circle r="5" cx="856.9" cy="101.0"/><circle r="5" cx="856.9" cy="117.6"/><circle r="5" cx="880.6" cy="51.0"/><circle r="5" cx="880.6" cy="52.1"/><circle r="5" cx="880.6" cy="53.8"/><circle r="5" cx="880.6" cy="55.7"/><circle r="5" cx="880.6" cy="56.8"/><circle r="5" cx="880.6" cy="58.7"/><circle r="5" cx="880.6" cy="59.2"/><circle r="5" cx="880.6" cy="61.3"/><circle r="5" cx="880.6" cy="62.6"/><circle r="5" cx="880.6" cy="63.7"/><circle r="5" cx="880.6" cy="66.0"/><circle r="5" cx="880.6" cy="66.5"/><circle r="5" cx="890.8" cy="55.3"/><circle r="5" cx="890.8" cy="56.6"/><circle r="5" cx="890.8" cy="58.2"/><circle r="5" cx="890.8" cy="59.4"/><circle r="5" cx="890.8" cy="61.1"/><circle r="5" cx="890.8" cy="62.2"/><circle r="5" cx="890.8" cy="63.8"/><circle r="5" cx="890.8" cy="64.7"/><circle r="5" cx="890.8" cy="66.6"/><circle r="5" cx="890.8" cy="67.3"/><circle r="5" cx="890.8" cy="69.2"/><circle r="5" cx="890.8" cy="70.2"/><circle r="5" cx="890.8" cy="71.6"/><circle r="5" cx="890.8" cy="73.6"/><circle r="5" cx="890.8" cy="74.8"/><circle r="5" cx="890.8" cy="75.5"/><circle r="5" cx="890.8" cy="77.9"/><circle r="5" cx="890.8" cy="78.3"/><circle r="5" cx="890.8" cy="79.9"/><circle r="5" cx="890.8" cy="81.3"/><circle r="5" cx="890.8" cy="83.4"/><circle r="5" cx="890.8" cy="84.8"/><circle r="5" cx="890.8" cy="85.3"/><circle r="5" cx="890.8" cy="87.4"/><circle r="5" cx="890.8" cy="89.0"/><circle r="5" cx="890.8" cy="89.5"/><circle r="5" cx="890.8" cy="90.9"/><circle r="5" cx="890.8" cy="92.2"/><circle r="5" cx="890.8" cy="94.4"/><circle r="5" cx="890.8" cy="94.8"/><circle r="5" cx="890.8" cy="96.8"/><circle r="5" cx="890.8" cy="98.2"/><circle r="5" cx="890.8" cy="99.6"/><circle r="5" cx="890.8" cy="100.5"/><circle r="5" cx="890.8" cy="102.3"/><circle r="5" cx="902.0" cy="97.6"/><circle r="5" cx="902.1" cy="101.0"/><circle r="5" cx="903.5" cy="117.7"/><circle r="5" cx="903.5" cy="118.8"/><circle r="5" cx="903.5" cy="120.7"/><circle r="5" cx="903.5" cy="122.0"/><circle r="5" cx="903.5" cy="124.2"/><circle r="5" cx="903.5" cy="125.0"/><circle r="5" cx="903.5" cy="127.1"/><circle r="5" cx="903.5" cy="128.8"/><circle r="5" cx="903.5" cy="129.8"/><circle r="5" cx="903.5" cy="131.9"/><circle r="5" cx="903.5" cy="133.3"/><circle r="5" cx="903.5" cy="134.7"/><circle r="5" cx="903.5" cy="145.5"/><circle r="5" cx="903.5" cy="148.8"/><circle r="5" cx="924.6" cy="83.5"/><circle r="5" cx="924.6" cy="85.3"/><circle r="5" cx="924.6" cy="96.4"/><circle r="5" cx="924.6" cy="103.5"/><circle r="5" cx="924.6" cy="121.8"/><circle r="5" cx="924.6" cy="123.4"/><circle r="5" cx="924.6" cy="125.0"/><circle r="5" cx="924.6" cy="126.3"/><circle r="5" cx="924.6" cy="127.7"/><circle r="5" cx="924.6" cy="128.9"/><circle r="5" cx="924.6" cy="130.1"/><circle r="5" cx="924.6" cy="131.9"/><circle r="5" cx="924.6" cy="133.1"/><circle r="5" cx="924.6" cy="134.7"/><circle r="5" cx="924.6" cy="135.9"/><circle r="5" cx="924.6" cy="138.4"/><circle r="5" cx="924.6" cy="139.9"/><circle r="5" cx="924.6" cy="141.2"/><circle r="5" cx="924.6" cy="142.6"/><circle r="5" cx="924.6" cy="143.5"/><circle r="5" cx="924.6" cy="144.7"/><circle r="5" cx="924.6" cy="147.2"/><circle r="5" cx="924.6" cy="148.0"/><circle r="5" cx="924.6" cy="150.0"/><circle r="5" cx="924.6" cy="151.5"/><circle r="5" cx="924.6" cy="152.2"/><circle r="5" cx="924.6" cy="153.9"/><circle r="5" cx="924.6" cy="155.4"/><circle r="5" cx="924.6" cy="157.6"/><circle r="5" cx="924.6" cy="158.6"/><circle r="5" cx="924.6" cy="160.1"/><circle r="5" cx="924.6" cy="161.4"/><circle r="5" cx="924.6" cy="163.0"/><circle r="5" cx="961.3" cy="128.6"/><circle r="5" cx="961.3" cy="131.4"/><circle r="5" cx="961.3" cy="145.5"/><circle r="5" cx="961.3" cy="147.5"/><circle r="5" cx="961.3" cy="148.4"/><circle r="5" cx="961.3" cy="150.8"/><circle r="5" cx="961.3" cy="152.6"/><circle r="5" cx="961.3" cy="153.6"/><circle r="5" cx="961.3" cy="155.0"/><circle r="5" cx="961.3" cy="156.9"/><circle r="5" cx="879.5" cy="146.3"/><circle r="5" cx="879.5" cy="147.7"/><circle r="5" cx="879.5" cy="149.8"/><circle r="5" cx="879.5" cy="151.4"/><circle r="5" cx="909.8" cy="52.0"/><circle r="5" cx="929.6" cy="54.1"/><circle r="5" cx="919.0" cy="58.0"/><circle r="5" cx="919.0" cy="62.0"/><circle r="5" cx="921.0" cy="66.0"/><circle r="5" cx="917.5" cy="68.0"/><circle r="5" cx="907.7" cy="71.0"/><circle r="5" cx="919.0" cy="76.7"/><circle r="5" cx="952.8" cy="71.7"/><circle r="5" cx="940.1" cy="110.5"/><circle r="5" cx="952.8" cy="118.3"/><circle r="5" cx="875.3" cy="124.6"/><circle r="5" cx="875.3" cy="125.0"/><circle r="5" cx="880.9" cy="128.2"/><circle r="5" cx="880.9" cy="128.6"/><circle r="5" cx="845.6" cy="126.0"/><circle r="5" cx="840.7" cy="96.4"/><circle r="5" cx="845.0" cy="99.2"/><circle r="5" cx="849.9" cy="102.0"/><circle r="5" cx="883.7" cy="95.7"/><circle r="5" cx="883.7" cy="96.1"/><circle r="5" cx="910.5" cy="95.0"/><circle r="5" cx="926.0" cy="100.6"/><circle r="5" cx="916.9" cy="118.3"/><circle r="5" cx="927.4" cy="118.3"/><circle r="5" cx="911.9" cy="146.5"/><circle r="5" cx="916.9" cy="133.0"/><circle r="5" cx="938.7" cy="147.2"/><circle r="5" cx="947.2" cy="150.0"/><circle r="5" cx="966.9" cy="147.9"/><circle r="5" cx="990.2" cy="145.8"/><circle r="5" cx="850.6" cy="159.9"/><circle r="5" cx="856.2" cy="167.6"/><circle r="5" cx="871.7" cy="162.0"/><circle r="5" cx="892.9" cy="155.0"/><circle r="5" cx="894.3" cy="164.0"/><circle r="5" cx="903.5" cy="162.7"/><circle r="5" cx="953.5" cy="164.0"/><circle r="5" cx="856.5" cy="186.0"/><circle r="5" cx="698.0" cy="235.0"/><circle r="5" cx="698.0" cy="246.0"/><circle r="5" cx="682.6" cy="232.4"/><circle r="5" cx="682.6" cy="232.8"/><circle r="5" cx="727.0" cy="288.5"/><circle r="5" cx="727.0" cy="290.5"/><circle r="5" cx="736.0" cy="290.6"/><circle r="5" cx="736.0" cy="295.0"/><circle r="5" cx="736.0" cy="299.2"/><circle r="5" cx="736.0" cy="300.7"/><circle r="5" cx="403.0" cy="640.2"/><circle r="5" cx="389.6" cy="638.8"/><circle r="5" cx="362.4" cy="669.7"/><circle r="5" cx="396.8" cy="602.8"/><circle r="5" cx="366.5" cy="680.0"/><circle r="5" cx="378.3" cy="685.4"/><circle r="5" cx="396.7" cy="618.1"/><circle r="5" cx="323.9" cy="688.3"/><circle r="5" cx="329.9" cy="669.1"/><circle r="5" cx="396.5" cy="639.0"/><circle r="5" cx="396.8" cy="632.9"/><circle r="5" cx="396.2" cy="617.1"/><circle r="5" cx="472.5" cy="580.3"/><circle r="5" cx="393.6" cy="612.1"/><circle r="5" cx="361.6" cy="658.2"/><circle r="5" cx="388.1" cy="646.0"/><circle r="5" cx="430.9" cy="584.6"/><circle r="5" cx="374.1" cy="666.9"/><circle r="5" cx="418.9" cy="582.2"/><circle r="5" cx="404.7" cy="620.8"/><circle r="5" cx="358.2" cy="680.4"/><circle r="5" cx="391.9" cy="606.6"/><circle r="5" cx="343.0" cy="678.9"/><circle r="5" cx="356.6" cy="670.5"/><circle r="5" cx="352.4" cy="669.0"/><circle r="5" cx="386.7" cy="619.2"/><circle r="5" cx="369.1" cy="666.6"/><circle r="5" cx="427.9" cy="601.6"/><circle r="5" cx="369.2" cy="666.8"/><circle r="5" cx="407.5" cy="619.4"/><circle r="5" cx="361.1" cy="666.5"/><circle r="5" cx="347.9" cy="653.8"/><circle r="5" cx="340.7" cy="680.1"/><circle r="5" cx="393.3" cy="623.9"/><circle r="5" cx="439.0" cy="584.5"/><circle r="5" cx="402.1" cy="594.7"/><circle r="5" cx="434.1" cy="590.1"/><circle r="5" cx="383.4" cy="669.1"/><circle r="5" cx="389.9" cy="668.4"/><circle r="5" cx="382.1" cy="623.6"/><circle r="5" cx="619.9" cy="411.8"/><circle r="5" cx="540.4" cy="485.6"/><circle r="5" cx="533.0" cy="479.3"/><circle r="5" cx="558.7" cy="441.5"/><circle r="5" cx="537.9" cy="474.3"/><circle r="5" cx="560.4" cy="472.3"/><circle r="5" cx="491.0" cy="501.8"/><circle r="5" cx="541.6" cy="450.3"/><circle r="5" cx="592.6" cy="422.5"/><circle r="5" cx="587.3" cy="424.2"/><circle r="5" cx="515.9" cy="508.8"/><circle r="5" cx="599.1" cy="421.5"/><circle r="5" cx="533.4" cy="461.9"/><circle r="5" cx="565.4" cy="472.4"/><circle r="5" cx="574.5" cy="446.2"/><circle r="5" cx="495.1" cy="512.4"/><circle r="5" cx="511.0" cy="506.9"/><circle r="5" cx="547.0" cy="472.7"/><circle r="5" cx="581.9" cy="413.2"/><circle r="5" cx="485.7" cy="529.2"/><circle r="5" cx="562.4" cy="446.5"/><circle r="5" cx="547.3" cy="436.4"/><circle r="5" cx="532.4" cy="477.5"/><circle r="5" cx="484.7" cy="504.0"/><circle r="5" cx="560.0" cy="456.2"/><circle r="5" cx="586.4" cy="453.1"/><circle r="5" cx="552.6" cy="449.5"/><circle r="5" cx="488.0" cy="511.2"/><circle r="5" cx="548.5" cy="445.9"/><circle r="5" cx="532.2" cy="490.8"/><circle r="5" cx="560.8" cy="458.0"/><circle r="5" cx="575.8" cy="436.4"/><circle r="5" cx="587.2" cy="419.2"/><circle r="5" cx="555.4" cy="477.7"/><circle r="5" cx="543.6" cy="487.0"/><circle r="5" cx="590.5" cy="435.8"/><circle r="5" cx="557.4" cy="453.5"/><circle r="5" cx="591.3" cy="433.2"/><circle r="5" cx="539.5" cy="507.0"/><circle r="5" cx="608.5" cy="413.8"/><circle r="5" cx="619.5" cy="372.0"/><circle r="5" cx="688.6" cy="348.1"/><circle r="5" cx="643.7" cy="341.9"/><circle r="5" cx="685.7" cy="321.4"/><circle r="5" cx="672.3" cy="298.0"/><circle r="5" cx="631.1" cy="378.0"/><circle r="5" cx="636.4" cy="359.5"/><circle r="5" cx="683.3" cy="305.0"/><circle r="5" cx="622.4" cy="374.7"/><circle r="5" cx="650.1" cy="347.7"/><circle r="5" cx="644.7" cy="334.2"/><circle r="5" cx="692.3" cy="319.5"/><circle r="5" cx="734.6" cy="287.6"/><circle r="5" cx="654.6" cy="377.3"/><circle r="5" cx="706.4" cy="280.1"/><circle r="5" cx="733.7" cy="277.2"/><circle r="5" cx="693.5" cy="282.3"/><circle r="5" cx="671.1" cy="305.6"/><circle r="5" cx="721.2" cy="290.3"/><circle r="5" cx="620.7" cy="392.7"/><circle r="5" cx="597.5" cy="408.4"/><circle r="5" cx="726.6" cy="278.9"/><circle r="5" cx="679.2" cy="337.7"/><circle r="5" cx="661.5" cy="311.6"/><circle r="5" cx="597.1" cy="395.6"/><circle r="5" cx="657.5" cy="336.4"/><circle r="5" cx="626.8" cy="384.2"/><circle r="5" cx="734.6" cy="267.4"/><circle r="5" cx="625.7" cy="402.0"/><circle r="5" cx="694.6" cy="300.1"/><circle r="5" cx="670.9" cy="336.3"/><circle r="5" cx="624.7" cy="409.1"/><circle r="5" cx="632.6" cy="384.7"/><circle r="5" cx="627.8" cy="352.2"/><circle r="5" cx="665.4" cy="336.7"/><circle r="5" cx="732.0" cy="294.8"/><circle r="5" cx="685.1" cy="319.7"/><circle r="5" cx="701.2" cy="337.9"/><circle r="5" cx="662.4" cy="373.6"/><circle r="5" cx="714.3" cy="298.2"/><circle r="5" cx="745.2" cy="281.0"/><circle r="5" cx="710.8" cy="299.7"/><circle r="5" cx="672.9" cy="306.2"/><circle r="5" cx="636.7" cy="343.0"/><circle r="5" cx="680.2" cy="318.4"/><circle r="5" cx="727.7" cy="274.0"/><circle r="5" cx="693.4" cy="315.3"/><circle r="5" cx="679.6" cy="354.5"/><circle r="5" cx="725.8" cy="309.3"/><circle r="5" cx="618.0" cy="407.7"/><circle r="5" cx="611.6" cy="373.8"/><circle r="5" cx="604.3" cy="382.7"/><circle r="5" cx="653.0" cy="374.6"/><circle r="5" cx="691.0" cy="337.4"/><circle r="5" cx="753.1" cy="266.7"/><circle r="5" cx="625.3" cy="400.0"/><circle r="5" cx="609.9" cy="404.5"/><circle r="5" cx="649.6" cy="342.6"/><circle r="5" cx="682.7" cy="322.4"/><circle r="5" cx="662.0" cy="350.0"/><circle r="5" cx="646.9" cy="358.0"/><circle r="5" cx="675.7" cy="329.7"/><circle r="5" cx="608.8" cy="368.1"/><circle r="5" cx="602.0" cy="404.8"/><circle r="5" cx="679.8" cy="354.5"/><circle r="5" cx="646.0" cy="403.7"/><circle r="5" cx="624.0" cy="400.3"/><circle r="5" cx="673.6" cy="341.7"/><circle r="5" cx="698.4" cy="335.1"/><circle r="5" cx="696.6" cy="343.1"/><circle r="5" cx="670.5" cy="323.5"/><circle r="5" cx="630.3" cy="344.9"/><circle r="5" cx="653.1" cy="334.4"/><circle r="5" cx="678.3" cy="314.2"/><circle r="5" cx="686.9" cy="326.6"/><circle r="5" cx="911.1" cy="62.1"/><circle r="5" cx="863.0" cy="152.7"/><circle r="5" cx="852.0" cy="140.5"/><circle r="5" cx="892.7" cy="107.4"/><circle r="5" cx="898.4" cy="129.5"/><circle r="5" cx="895.0" cy="110.8"/><circle r="5" cx="922.9" cy="85.0"/><circle r="5" cx="947.0" cy="70.9"/><circle r="5" cx="955.8" cy="73.3"/><circle r="5" cx="942.3" cy="55.1"/><circle r="5" cx="917.6" cy="84.8"/><circle r="5" cx="866.3" cy="119.5"/><circle r="5" cx="911.9" cy="51.1"/><circle r="5" cx="832.5" cy="145.5"/><circle r="5" cx="899.8" cy="53.6"/><circle r="5" cx="861.3" cy="156.2"/><circle r="5" cx="818.9" cy="148.5"/><circle r="5" cx="888.0" cy="99.9"/><circle r="5" cx="804.4" cy="157.0"/><circle r="5" cx="868.8" cy="141.8"/><circle r="5" cx="820.9" cy="143.1"/><circle r="5" cx="848.3" cy="149.3"/><circle r="5" cx="475.2" cy="558.0"/><circle r="5" cx="481.0" cy="539.7"/><circle r="5" cx="459.5" cy="560.4"/><circle r="5" cx="471.2" cy="541.2"/><circle r="5" cx="463.9" cy="555.3"/><circle r="5" cx="439.4" cy="565.4"/><circle r="5" cx="459.0" cy="565.6"/><circle r="5" cx="451.6" cy="563.1"/><circle r="5" cx="469.1" cy="561.5"/><circle r="5" cx="469.2" cy="541.0"/>
</g>
<line x1="155" y1="886" x2="958" y2="28.4" stroke="#bebebe" stroke-width="3.5"/>
<rect x="116.5" y="24.3" width="883.0" height="871.1" fill="none" stroke="#333" stroke-width="1"/>
<path d="M116.7 24.3V895.3H999.5" fill="none" stroke="#000" stroke-width="1.35"/>
<line class="k" x1="105" x2="116.5" y1="871.50" y2="871.50"/><text class="t" x="95.6" y="878.60" text-anchor="end">2007</text>
<line class="k" x1="105" x2="116.5" y1="823.09" y2="823.09"/><text class="t" x="95.6" y="830.19" text-anchor="end">2008</text>
<line class="k" x1="105" x2="116.5" y1="774.68" y2="774.68"/><text class="t" x="95.6" y="781.78" text-anchor="end">2009</text>
<line class="k" x1="105" x2="116.5" y1="726.27" y2="726.27"/><text class="t" x="95.6" y="733.37" text-anchor="end">2010</text>
<line class="k" x1="105" x2="116.5" y1="677.86" y2="677.86"/><text class="t" x="95.6" y="684.96" text-anchor="end">2011</text>
<line class="k" x1="105" x2="116.5" y1="629.45" y2="629.45"/><text class="t" x="95.6" y="636.55" text-anchor="end">2012</text>
<line class="k" x1="105" x2="116.5" y1="581.04" y2="581.04"/><text class="t" x="95.6" y="588.14" text-anchor="end">2013</text>
<line class="k" x1="105" x2="116.5" y1="532.63" y2="532.63"/><text class="t" x="95.6" y="539.73" text-anchor="end">2014</text>
<line class="k" x1="105" x2="116.5" y1="484.22" y2="484.22"/><text class="t" x="95.6" y="491.32" text-anchor="end">2015</text>
<line class="k" x1="105" x2="116.5" y1="435.81" y2="435.81"/><text class="t" x="95.6" y="442.91" text-anchor="end">2016</text>
<line class="k" x1="105" x2="116.5" y1="387.40" y2="387.40"/><text class="t" x="95.6" y="394.50" text-anchor="end">2017</text>
<line class="k" x1="105" x2="116.5" y1="338.99" y2="338.99"/><text class="t" x="95.6" y="346.09" text-anchor="end">2018</text>
<line class="k" x1="105" x2="116.5" y1="290.58" y2="290.58"/><text class="t" x="95.6" y="297.68" text-anchor="end">2019</text>
<line class="k" x1="105" x2="116.5" y1="242.17" y2="242.17"/><text class="t" x="95.6" y="249.27" text-anchor="end">2020</text>
<line class="k" x1="105" x2="116.5" y1="193.76" y2="193.76"/><text class="t" x="95.6" y="200.86" text-anchor="end">2021</text>
<line class="k" x1="105" x2="116.5" y1="145.35" y2="145.35"/><text class="t" x="95.6" y="152.45" text-anchor="end">2022</text>
<line class="k" x1="105" x2="116.5" y1="96.94" y2="96.94"/><text class="t" x="95.6" y="104.04" text-anchor="end">2023</text>
<line class="k" x1="105" x2="116.5" y1="48.53" y2="48.53"/><text class="t" x="95.6" y="55.63" text-anchor="end">2024</text>
<line class="k" x1="195.3" x2="195.3" y1="895.4" y2="906.8"/><text class="t" x="195.3" y="931.2" text-anchor="middle">1</text>
<line class="k" x1="354.6" x2="354.6" y1="895.4" y2="906.8"/><text class="t" x="354.6" y="931.2" text-anchor="middle">2</text>
<line class="k" x1="513.9" x2="513.9" y1="895.4" y2="906.8"/><text class="t" x="513.9" y="931.2" text-anchor="middle">3</text>
<line class="k" x1="673.2" x2="673.2" y1="895.4" y2="906.8"/><text class="t" x="673.2" y="931.2" text-anchor="middle">4</text>
<line class="k" x1="832.5" x2="832.5" y1="895.4" y2="906.8"/><text class="t" x="832.5" y="931.2" text-anchor="middle">5</text>
<line class="k" x1="991.8" x2="991.8" y1="895.4" y2="906.8"/><text class="t" x="991.8" y="931.2" text-anchor="middle">6</text>
<text class="T" x="558" y="964.8" text-anchor="middle">Sequence−based antigenic distance</text>
<text class="T" x="558" y="991" text-anchor="middle">from A/Wisconsin/67/2005</text>
<text class="T" style="font-size:25.4px" transform="translate(32.9 460.1) rotate(-90)" text-anchor="middle">Time</text>
<text x="-0.5" y="20.6" font-size="26.8" fill="#000">a</text>
<text class="T" x="706" y="787.5">Geographic locations</text>
<circle cx="723.6" cy="831.4" r="5.5" fill="#ee0000" fill-opacity=".6"/><text class="l" x="764.3" y="838.7">Southeastern Asia</text>
<circle cx="723.6" cy="866.7" r="5.5" fill="#08488f" fill-opacity=".62"/><text class="l" x="764.3" y="873.7">Temperate regions</text>
</g>
<g id="panel-b">
<line class="g" x1="1453.3" x2="1453.3" y1="98.7" y2="607.5"/>
<line class="g" x1="1536.3" x2="1536.3" y1="98.7" y2="607.5"/>
<line class="g" x1="1619.3" x2="1619.3" y1="98.7" y2="607.5"/>
<line class="g" x1="1702.3" x2="1702.3" y1="98.7" y2="607.5"/>
<line class="g" x1="1785.3" x2="1785.3" y1="98.7" y2="607.5"/>
<line class="g" x1="1868.3" x2="1868.3" y1="98.7" y2="607.5"/>
<line class="g" x1="1951.3" x2="1951.3" y1="98.7" y2="607.5"/>
<line class="g" x1="1370.2" x2="2034.3" y1="132.2" y2="132.2"/>
<line class="g" x1="1370.2" x2="2034.3" y1="187.4" y2="187.4"/>
<line class="g" x1="1370.2" x2="2034.3" y1="242.6" y2="242.6"/>
<line class="g" x1="1370.2" x2="2034.3" y1="297.8" y2="297.8"/>
<line class="g" x1="1370.2" x2="2034.3" y1="353.0" y2="353.0"/>
<line class="g" x1="1370.2" x2="2034.3" y1="408.2" y2="408.2"/>
<line class="g" x1="1370.2" x2="2034.3" y1="463.4" y2="463.4"/>
<line class="g" x1="1370.2" x2="2034.3" y1="518.6" y2="518.6"/>
<line class="g" x1="1370.2" x2="2034.3" y1="573.8" y2="573.8"/>
<circle cx="1916.4" cy="132.2" r="8.2" fill="#fcbba1"/>
<circle cx="1718.8" cy="132.2" r="16.0" fill="#1c9fb9"/>
<circle cx="1615.5" cy="132.2" r="7.4" fill="#b2204a"/>
<circle cx="1925.8" cy="187.4" r="8.2" fill="#fcbba1"/>
<circle cx="1729.1" cy="187.4" r="15.2" fill="#1c9fb9"/>
<circle cx="1615.5" cy="187.4" r="7.4" fill="#b2204a"/>
<circle cx="1401.7" cy="242.6" r="5.6" fill="#fcbba1"/>
<circle cx="1662.8" cy="242.6" r="9.2" fill="#1c9fb9"/>
<circle cx="1833.9" cy="297.8" r="6.9" fill="#fcbba1"/>
<circle cx="1657.2" cy="297.8" r="16.0" fill="#1c9fb9"/>
<circle cx="1622.2" cy="297.8" r="6.5" fill="#b2204a"/>
<circle cx="1916.0" cy="353.0" r="6.2" fill="#fcbba1"/>
<circle cx="1673.6" cy="353.0" r="9.8" fill="#1c9fb9"/>
<circle cx="1684.7" cy="353.0" r="5.6" fill="#b2204a"/>
<circle cx="1783.2" cy="408.2" r="5.6" fill="#fcbba1"/>
<circle cx="1677.5" cy="408.2" r="10.5" fill="#1c9fb9"/>
<circle cx="1972.6" cy="463.4" r="5.9" fill="#fcbba1"/>
<circle cx="1652.0" cy="463.4" r="10.1" fill="#1c9fb9"/>
<circle cx="1587.2" cy="518.6" r="5.9" fill="#fcbba1"/>
<circle cx="1618.6" cy="518.6" r="10.5" fill="#1c9fb9"/>
<circle cx="1684.0" cy="573.8" r="4.3" fill="#fcbba1"/>
<circle cx="1675.2" cy="573.8" r="8.8" fill="#1c9fb9"/>
<circle cx="1508.0" cy="573.8" r="5.9" fill="#b2204a"/>
<path d="M1711.8 132.2L1728.8 115.3L1745.7 132.2L1728.8 149.1Z" fill="#c6c6c6" fill-opacity=".54" stroke="#333" stroke-opacity=".75" stroke-width="1"/>
<path d="M1722.8 187.4L1739.7 170.5L1756.6 187.4L1739.7 204.3Z" fill="#c6c6c6" fill-opacity=".54" stroke="#333" stroke-opacity=".75" stroke-width="1"/>
<path d="M1643.9 242.6L1660.8 225.7L1677.7 242.6L1660.8 259.5Z" fill="#c6c6c6" fill-opacity=".54" stroke="#333" stroke-opacity=".75" stroke-width="1"/>
<path d="M1643.9 297.8L1660.8 280.9L1677.7 297.8L1660.8 314.7Z" fill="#c6c6c6" fill-opacity=".54" stroke="#333" stroke-opacity=".75" stroke-width="1"/>
<path d="M1666.8 353.0L1683.7 336.1L1700.6 353.0L1683.7 369.9Z" fill="#c6c6c6" fill-opacity=".54" stroke="#333" stroke-opacity=".75" stroke-width="1"/>
<path d="M1662.3 408.2L1679.2 391.3L1696.1 408.2L1679.2 425.1Z" fill="#c6c6c6" fill-opacity=".54" stroke="#333" stroke-opacity=".75" stroke-width="1"/>
<path d="M1643.9 463.4L1660.8 446.5L1677.7 463.4L1660.8 480.3Z" fill="#c6c6c6" fill-opacity=".54" stroke="#333" stroke-opacity=".75" stroke-width="1"/>
<path d="M1600.8 518.6L1617.7 501.7L1634.6 518.6L1617.7 535.5Z" fill="#c6c6c6" fill-opacity=".54" stroke="#333" stroke-opacity=".75" stroke-width="1"/>
<path d="M1651.8 573.8L1668.7 556.9L1685.6 573.8L1668.7 590.7Z" fill="#c6c6c6" fill-opacity=".54" stroke="#333" stroke-opacity=".75" stroke-width="1"/>
<line x1="1702.4" x2="1702.4" y1="98.7" y2="607.5" stroke="#ff0000" stroke-width="4.6" stroke-dasharray="17.7 17.7" stroke-dashoffset="5.3"/>
<rect x="1370.2" y="98.7" width="664.1" height="508.8" fill="none" stroke="#444" stroke-width="1.1"/>
<path d="M2034.3 98.7H1370.2V607.5H2034.3" fill="none" stroke="#222" stroke-width="1.7"/>
<line class="k" x1="1359" x2="1370.2" y1="132.2" y2="132.2"/><text class="u" x="1084.5" y="139.5">Southeastern Asia</text>
<line class="k" x1="1359" x2="1370.2" y1="187.4" y2="187.4"/><text class="u" x="1119.5" y="194.7">Southeastern Asia (PL)</text>
<line class="k" x1="1359" x2="1370.2" y1="242.6" y2="242.6"/><text class="u" x="1119.5" y="249.9">Southeastern Asia (NPL)</text>
<line class="k" x1="1359" x2="1370.2" y1="297.8" y2="297.8"/><text class="u" x="1084.5" y="305.1">Temperate regions</text>
<line class="k" x1="1359" x2="1370.2" y1="353.0" y2="353.0"/><text class="u" x="1119.5" y="360.3">Oceania</text>
<line class="k" x1="1359" x2="1370.2" y1="408.2" y2="408.2"/><text class="u" x="1119.5" y="415.5">North America</text>
<line class="k" x1="1359" x2="1370.2" y1="463.4" y2="463.4"/><text class="u" x="1119.5" y="470.7">Europe</text>
<line class="k" x1="1359" x2="1370.2" y1="518.6" y2="518.6"/><text class="u" x="1119.5" y="525.9">South America</text>
<line class="k" x1="1359" x2="1370.2" y1="573.8" y2="573.8"/><text class="u" x="1119.5" y="581.1">Southern Africa</text>
<line class="k" x1="1370.3" x2="1370.3" y1="607.5" y2="618.6"/><text class="u" x="1370.3" y="642.9" text-anchor="middle">−0.4</text>
<line class="k" x1="1453.3" x2="1453.3" y1="607.5" y2="618.6"/><text class="u" x="1453.3" y="642.9" text-anchor="middle">−0.3</text>
<line class="k" x1="1536.3" x2="1536.3" y1="607.5" y2="618.6"/><text class="u" x="1536.3" y="642.9" text-anchor="middle">−0.2</text>
<line class="k" x1="1619.3" x2="1619.3" y1="607.5" y2="618.6"/><text class="u" x="1619.3" y="642.9" text-anchor="middle">−0.1</text>
<line class="k" x1="1702.3" x2="1702.3" y1="607.5" y2="618.6"/><text class="u" x="1702.3" y="642.9" text-anchor="middle">0</text>
<line class="k" x1="1785.3" x2="1785.3" y1="607.5" y2="618.6"/><text class="u" x="1785.3" y="642.9" text-anchor="middle">0.1</text>
<line class="k" x1="1868.3" x2="1868.3" y1="607.5" y2="618.6"/><text class="u" x="1868.3" y="642.9" text-anchor="middle">0.2</text>
<line class="k" x1="1951.3" x2="1951.3" y1="607.5" y2="618.6"/><text class="u" x="1951.3" y="642.9" text-anchor="middle">0.3</text>
<line class="k" x1="2034.3" x2="2034.3" y1="607.5" y2="618.6"/><text class="u" x="2034.3" y="642.9" text-anchor="middle">0.4</text>
<line class="k" x1="1465.9" x2="1465.9" y1="87.7" y2="98.7"/><text class="u" x="1465.9" y="78.4" text-anchor="middle">−12</text>
<line class="k" x1="1584.1" x2="1584.1" y1="87.7" y2="98.7"/><text class="u" x="1584.1" y="78.4" text-anchor="middle">−6</text>
<line class="k" x1="1702.3" x2="1702.3" y1="87.7" y2="98.7"/><text class="u" x="1702.3" y="78.4" text-anchor="middle">0</text>
<line class="k" x1="1820.5" x2="1820.5" y1="87.7" y2="98.7"/><text class="u" x="1820.5" y="78.4" text-anchor="middle">6</text>
<line class="k" x1="1938.7" x2="1938.7" y1="87.7" y2="98.7"/><text class="u" x="1938.7" y="78.4" text-anchor="middle">12</text>
<text class="T" x="1702.6" y="47.5" text-anchor="middle">Months</text>
<text class="T" x="1703.3" y="677.2" text-anchor="middle">Mean sequence−based antigenic distance</text>
<text class="T" x="1702.3" y="703.2" text-anchor="middle">to the fitted line</text>
<text x="1034" y="20.6" font-size="26.8" fill="#000">b</text>
<text class="T" x="1199" y="776.9">Periods</text>
<circle cx="1216.9" cy="820.4" r="9.7" fill="#fcbba1"/><text class="l" x="1256.5" y="827.5">A/H1N1 pandemic season</text>
<circle cx="1216.9" cy="855.5" r="9.7" fill="#1c9fb9"/><text class="l" x="1256.5" y="862.6">Interpandemic period</text>
<circle cx="1216.9" cy="890.6" r="9.7" fill="#b2204a"/><text class="l" x="1256.5" y="897.7">COVID−19 pandemic season</text>
<path d="M1200.1 937.2L1217.2 920.1L1234.3 937.2L1217.2 954.3Z" fill="#d9d9d9" stroke="#7a7a7a" stroke-width="1"/>
<text class="l" x="1257.6" y="944.6">Average distance/months across three periods</text>
<text class="T" x="1755" y="776.6">Number of sequences</text>
<circle cx="1772.4" cy="820.4" r="6.25" fill="#000"/><text class="l" x="1813" y="827.6">10</text>
<circle cx="1772.4" cy="878.3" r="7.40" fill="#000"/><text class="l" x="1813" y="885.5">50</text>
<circle cx="1772.4" cy="936.2" r="8.30" fill="#000"/><text class="l" x="1813" y="943.4">100</text>
<circle cx="1887.5" cy="820.4" r="11.60" fill="#000"/><text class="l" x="1927.5" y="827.6">500</text>
<circle cx="1887.5" cy="878.3" r="14.40" fill="#000"/><text class="l" x="1927.5" y="885.5">1000</text>
<circle cx="1887.5" cy="936.2" r="16.40" fill="#000"/><text class="l" x="1927.5" y="943.4">1500</text>
</g></svg></body></html>
